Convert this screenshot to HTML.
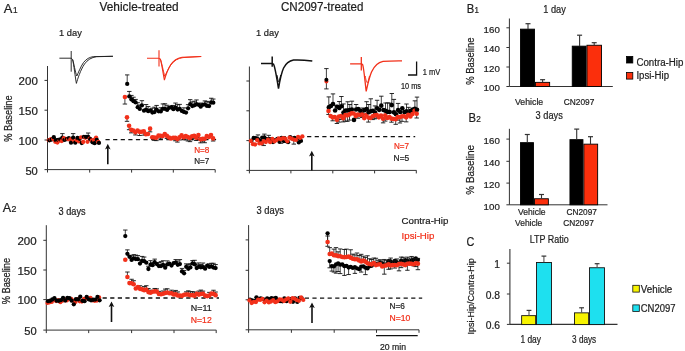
<!DOCTYPE html>
<html><head><meta charset="utf-8"><style>
html,body{margin:0;padding:0;background:#fff;width:685px;height:351px;overflow:hidden}
svg{display:block;filter:blur(0.5px)}
text{font-family:"Liberation Sans",sans-serif}
</style></head><body>
<svg xmlns="http://www.w3.org/2000/svg" width="685" height="351" viewBox="0 0 685 351">
<rect width="685" height="351" fill="#fff"/>
<line x1="47.5" y1="66" x2="47.5" y2="172.5" stroke="#333" stroke-width="1" />
<line x1="44.5" y1="80.4" x2="47.5" y2="80.4" stroke="#333" stroke-width="1" />
<line x1="44.5" y1="110.2" x2="47.5" y2="110.2" stroke="#333" stroke-width="1" />
<line x1="44.5" y1="140" x2="47.5" y2="140" stroke="#333" stroke-width="1" />
<line x1="44.5" y1="169.6" x2="47.5" y2="169.6" stroke="#333" stroke-width="1" />
<line x1="47.5" y1="169.6" x2="215.2" y2="169.6" stroke="#333" stroke-width="1" />
<line x1="89.7" y1="169.6" x2="89.7" y2="172.6" stroke="#333" stroke-width="1" />
<line x1="131.6" y1="169.6" x2="131.6" y2="172.6" stroke="#333" stroke-width="1" />
<line x1="173.3" y1="169.6" x2="173.3" y2="172.6" stroke="#333" stroke-width="1" />
<line x1="215.2" y1="169.6" x2="215.2" y2="172.6" stroke="#333" stroke-width="1" />
<line x1="105.5" y1="139.6" x2="217" y2="139.6" stroke="#111" stroke-width="1.4" stroke-dasharray="4.2 3.4"/>
<line x1="107.8" y1="146.8" x2="107.8" y2="164.2" stroke="#111" stroke-width="1.6" />
<path d="M107.8,143.8 L110.6,149.4 L107.8,148.1 L105,149.4 Z" stroke="none" stroke-width="0" fill="#111" />
<line x1="62.4" y1="137.61" x2="62.4" y2="133.61" stroke="#111" stroke-width="0.8" />
<line x1="60.2" y1="133.61" x2="64.6" y2="133.61" stroke="#111" stroke-width="0.9" />
<line x1="73.15" y1="137.61" x2="73.15" y2="133.61" stroke="#111" stroke-width="0.8" />
<line x1="70.95" y1="133.61" x2="75.35" y2="133.61" stroke="#111" stroke-width="0.9" />
<line x1="88.2" y1="137.02" x2="88.2" y2="133.02" stroke="#111" stroke-width="0.8" />
<line x1="86" y1="133.02" x2="90.4" y2="133.02" stroke="#111" stroke-width="0.9" />
<circle cx="48.8" cy="140.14" r="2.15" fill="#f2301a"/>
<circle cx="49.5" cy="140.31" r="2.15" fill="#000"/>
<circle cx="50.95" cy="139.13" r="2.15" fill="#f2301a"/>
<circle cx="51.65" cy="139.61" r="2.15" fill="#000"/>
<circle cx="53.1" cy="139.06" r="2.15" fill="#f2301a"/>
<circle cx="53.8" cy="137.22" r="2.15" fill="#000"/>
<circle cx="55.25" cy="141.85" r="2.15" fill="#f2301a"/>
<circle cx="55.95" cy="140.23" r="2.15" fill="#000"/>
<circle cx="57.4" cy="142.53" r="2.15" fill="#f2301a"/>
<circle cx="58.1" cy="139.95" r="2.15" fill="#000"/>
<circle cx="59.55" cy="140.55" r="2.15" fill="#f2301a"/>
<circle cx="60.25" cy="139.43" r="2.15" fill="#000"/>
<circle cx="61.7" cy="141.07" r="2.15" fill="#f2301a"/>
<circle cx="62.4" cy="137.61" r="2.15" fill="#000"/>
<circle cx="63.85" cy="138.16" r="2.15" fill="#f2301a"/>
<circle cx="64.55" cy="139.92" r="2.15" fill="#000"/>
<circle cx="66" cy="138.78" r="2.15" fill="#f2301a"/>
<circle cx="66.7" cy="139.15" r="2.15" fill="#000"/>
<circle cx="68.15" cy="139.24" r="2.15" fill="#f2301a"/>
<circle cx="68.85" cy="138.08" r="2.15" fill="#000"/>
<circle cx="70.3" cy="139.44" r="2.15" fill="#f2301a"/>
<circle cx="71" cy="142.66" r="2.15" fill="#000"/>
<circle cx="72.45" cy="138.86" r="2.15" fill="#f2301a"/>
<circle cx="73.15" cy="137.61" r="2.15" fill="#000"/>
<circle cx="74.6" cy="141.61" r="2.15" fill="#f2301a"/>
<circle cx="75.3" cy="142.69" r="2.15" fill="#000"/>
<circle cx="76.75" cy="140" r="2.15" fill="#f2301a"/>
<circle cx="77.45" cy="137.97" r="2.15" fill="#000"/>
<circle cx="78.9" cy="141.47" r="2.15" fill="#f2301a"/>
<circle cx="79.6" cy="138.73" r="2.15" fill="#000"/>
<circle cx="81.05" cy="137.45" r="2.15" fill="#f2301a"/>
<circle cx="81.75" cy="143.01" r="2.15" fill="#000"/>
<circle cx="83.2" cy="141.98" r="2.15" fill="#f2301a"/>
<circle cx="83.9" cy="136.84" r="2.15" fill="#000"/>
<circle cx="85.35" cy="137.87" r="2.15" fill="#f2301a"/>
<circle cx="86.05" cy="136.95" r="2.15" fill="#000"/>
<circle cx="87.5" cy="141.84" r="2.15" fill="#f2301a"/>
<circle cx="88.2" cy="137.02" r="2.15" fill="#000"/>
<circle cx="89.65" cy="138.53" r="2.15" fill="#f2301a"/>
<circle cx="90.35" cy="139.24" r="2.15" fill="#000"/>
<circle cx="91.8" cy="140.38" r="2.15" fill="#f2301a"/>
<circle cx="92.5" cy="142.25" r="2.15" fill="#000"/>
<circle cx="93.95" cy="140" r="2.15" fill="#f2301a"/>
<circle cx="94.65" cy="143.18" r="2.15" fill="#000"/>
<circle cx="96.1" cy="137.62" r="2.15" fill="#f2301a"/>
<circle cx="96.8" cy="139.81" r="2.15" fill="#000"/>
<circle cx="98.25" cy="142.02" r="2.15" fill="#f2301a"/>
<circle cx="98.95" cy="142.89" r="2.15" fill="#000"/>
<line x1="124.9" y1="97.04" x2="124.9" y2="104.04" stroke="#111" stroke-width="0.8" />
<line x1="122.7" y1="104.04" x2="127.1" y2="104.04" stroke="#111" stroke-width="0.9" />
<line x1="127" y1="117.33" x2="127" y2="121.33" stroke="#111" stroke-width="0.8" />
<line x1="124.8" y1="121.33" x2="129.2" y2="121.33" stroke="#111" stroke-width="0.9" />
<line x1="129.1" y1="125.68" x2="129.1" y2="129.68" stroke="#111" stroke-width="0.8" />
<line x1="126.9" y1="129.68" x2="131.3" y2="129.68" stroke="#111" stroke-width="0.9" />
<line x1="131.2" y1="129.86" x2="131.2" y2="132.86" stroke="#111" stroke-width="0.8" />
<line x1="129" y1="132.86" x2="133.4" y2="132.86" stroke="#111" stroke-width="0.9" />
<line x1="135.4" y1="132.24" x2="135.4" y2="134.96" stroke="#111" stroke-width="0.8" />
<line x1="133.2" y1="134.96" x2="137.6" y2="134.96" stroke="#111" stroke-width="0.9" />
<line x1="139.6" y1="131.83" x2="139.6" y2="135.52" stroke="#111" stroke-width="0.8" />
<line x1="137.4" y1="135.52" x2="141.8" y2="135.52" stroke="#111" stroke-width="0.9" />
<line x1="143.8" y1="131.33" x2="143.8" y2="135.17" stroke="#111" stroke-width="0.8" />
<line x1="141.6" y1="135.17" x2="146" y2="135.17" stroke="#111" stroke-width="0.9" />
<line x1="150.1" y1="128.66" x2="150.1" y2="131.85" stroke="#111" stroke-width="0.8" />
<line x1="147.9" y1="131.85" x2="152.3" y2="131.85" stroke="#111" stroke-width="0.9" />
<line x1="154.3" y1="137.49" x2="154.3" y2="140.32" stroke="#111" stroke-width="0.8" />
<line x1="152.1" y1="140.32" x2="156.5" y2="140.32" stroke="#111" stroke-width="0.9" />
<line x1="156.4" y1="137.75" x2="156.4" y2="140.64" stroke="#111" stroke-width="0.8" />
<line x1="154.2" y1="140.64" x2="158.6" y2="140.64" stroke="#111" stroke-width="0.9" />
<line x1="160.6" y1="135.71" x2="160.6" y2="138.85" stroke="#111" stroke-width="0.8" />
<line x1="158.4" y1="138.85" x2="162.8" y2="138.85" stroke="#111" stroke-width="0.9" />
<line x1="166.9" y1="135.91" x2="166.9" y2="138.47" stroke="#111" stroke-width="0.8" />
<line x1="164.7" y1="138.47" x2="169.1" y2="138.47" stroke="#111" stroke-width="0.9" />
<line x1="175.3" y1="137.9" x2="175.3" y2="140.75" stroke="#111" stroke-width="0.8" />
<line x1="173.1" y1="140.75" x2="177.5" y2="140.75" stroke="#111" stroke-width="0.9" />
<line x1="177.4" y1="139.12" x2="177.4" y2="142.08" stroke="#111" stroke-width="0.8" />
<line x1="175.2" y1="142.08" x2="179.6" y2="142.08" stroke="#111" stroke-width="0.9" />
<line x1="179.5" y1="137.38" x2="179.5" y2="139.98" stroke="#111" stroke-width="0.8" />
<line x1="177.3" y1="139.98" x2="181.7" y2="139.98" stroke="#111" stroke-width="0.9" />
<line x1="185.8" y1="136.07" x2="185.8" y2="139.84" stroke="#111" stroke-width="0.8" />
<line x1="183.6" y1="139.84" x2="188" y2="139.84" stroke="#111" stroke-width="0.9" />
<line x1="187.9" y1="137.09" x2="187.9" y2="140.97" stroke="#111" stroke-width="0.8" />
<line x1="185.7" y1="140.97" x2="190.1" y2="140.97" stroke="#111" stroke-width="0.9" />
<line x1="190" y1="137.95" x2="190" y2="141.65" stroke="#111" stroke-width="0.8" />
<line x1="187.8" y1="141.65" x2="192.2" y2="141.65" stroke="#111" stroke-width="0.9" />
<line x1="192.1" y1="136.31" x2="192.1" y2="139.73" stroke="#111" stroke-width="0.8" />
<line x1="189.9" y1="139.73" x2="194.3" y2="139.73" stroke="#111" stroke-width="0.9" />
<line x1="194.2" y1="135.84" x2="194.2" y2="138.37" stroke="#111" stroke-width="0.8" />
<line x1="192" y1="138.37" x2="196.4" y2="138.37" stroke="#111" stroke-width="0.9" />
<line x1="196.3" y1="137.65" x2="196.3" y2="140.5" stroke="#111" stroke-width="0.8" />
<line x1="194.1" y1="140.5" x2="198.5" y2="140.5" stroke="#111" stroke-width="0.9" />
<line x1="198.4" y1="134.93" x2="198.4" y2="137.98" stroke="#111" stroke-width="0.8" />
<line x1="196.2" y1="137.98" x2="200.6" y2="137.98" stroke="#111" stroke-width="0.9" />
<line x1="200.5" y1="139.34" x2="200.5" y2="142.83" stroke="#111" stroke-width="0.8" />
<line x1="198.3" y1="142.83" x2="202.7" y2="142.83" stroke="#111" stroke-width="0.9" />
<line x1="202.6" y1="138.9" x2="202.6" y2="141.88" stroke="#111" stroke-width="0.8" />
<line x1="200.4" y1="141.88" x2="204.8" y2="141.88" stroke="#111" stroke-width="0.9" />
<line x1="204.7" y1="138.79" x2="204.7" y2="142.72" stroke="#111" stroke-width="0.8" />
<line x1="202.5" y1="142.72" x2="206.9" y2="142.72" stroke="#111" stroke-width="0.9" />
<line x1="213.1" y1="138.38" x2="213.1" y2="141.03" stroke="#111" stroke-width="0.8" />
<line x1="210.9" y1="141.03" x2="215.3" y2="141.03" stroke="#111" stroke-width="0.9" />
<circle cx="124.9" cy="97.04" r="2.3" fill="#f2301a"/>
<circle cx="127" cy="117.33" r="2.3" fill="#f2301a"/>
<circle cx="129.1" cy="125.68" r="2.3" fill="#f2301a"/>
<circle cx="131.2" cy="129.86" r="2.3" fill="#f2301a"/>
<circle cx="133.3" cy="130.45" r="2.3" fill="#f2301a"/>
<circle cx="135.4" cy="132.24" r="2.3" fill="#f2301a"/>
<circle cx="137.5" cy="130.45" r="2.3" fill="#f2301a"/>
<circle cx="139.6" cy="131.83" r="2.3" fill="#f2301a"/>
<circle cx="141.7" cy="131.69" r="2.3" fill="#f2301a"/>
<circle cx="143.8" cy="131.33" r="2.3" fill="#f2301a"/>
<circle cx="145.9" cy="134.21" r="2.3" fill="#f2301a"/>
<circle cx="148" cy="134.02" r="2.3" fill="#f2301a"/>
<circle cx="150.1" cy="128.66" r="2.3" fill="#f2301a"/>
<circle cx="152.2" cy="137.28" r="2.3" fill="#f2301a"/>
<circle cx="154.3" cy="137.49" r="2.3" fill="#f2301a"/>
<circle cx="156.4" cy="137.75" r="2.3" fill="#f2301a"/>
<circle cx="158.5" cy="135.64" r="2.3" fill="#f2301a"/>
<circle cx="160.6" cy="135.71" r="2.3" fill="#f2301a"/>
<circle cx="162.7" cy="136.11" r="2.3" fill="#f2301a"/>
<circle cx="164.8" cy="134.03" r="2.3" fill="#f2301a"/>
<circle cx="166.9" cy="135.91" r="2.3" fill="#f2301a"/>
<circle cx="169" cy="137.51" r="2.3" fill="#f2301a"/>
<circle cx="171.1" cy="138.57" r="2.3" fill="#f2301a"/>
<circle cx="173.2" cy="137.77" r="2.3" fill="#f2301a"/>
<circle cx="175.3" cy="137.9" r="2.3" fill="#f2301a"/>
<circle cx="177.4" cy="139.12" r="2.3" fill="#f2301a"/>
<circle cx="179.5" cy="137.38" r="2.3" fill="#f2301a"/>
<circle cx="181.6" cy="135.23" r="2.3" fill="#f2301a"/>
<circle cx="183.7" cy="137.36" r="2.3" fill="#f2301a"/>
<circle cx="185.8" cy="136.07" r="2.3" fill="#f2301a"/>
<circle cx="187.9" cy="137.09" r="2.3" fill="#f2301a"/>
<circle cx="190" cy="137.95" r="2.3" fill="#f2301a"/>
<circle cx="192.1" cy="136.31" r="2.3" fill="#f2301a"/>
<circle cx="194.2" cy="135.84" r="2.3" fill="#f2301a"/>
<circle cx="196.3" cy="137.65" r="2.3" fill="#f2301a"/>
<circle cx="198.4" cy="134.93" r="2.3" fill="#f2301a"/>
<circle cx="200.5" cy="139.34" r="2.3" fill="#f2301a"/>
<circle cx="202.6" cy="138.9" r="2.3" fill="#f2301a"/>
<circle cx="204.7" cy="138.79" r="2.3" fill="#f2301a"/>
<circle cx="206.8" cy="136.04" r="2.3" fill="#f2301a"/>
<circle cx="208.9" cy="136.93" r="2.3" fill="#f2301a"/>
<circle cx="211" cy="134.93" r="2.3" fill="#f2301a"/>
<circle cx="213.1" cy="138.38" r="2.3" fill="#f2301a"/>
<line x1="127.2" y1="83.91" x2="127.2" y2="74.91" stroke="#111" stroke-width="0.8" />
<line x1="125" y1="74.91" x2="129.4" y2="74.91" stroke="#111" stroke-width="0.9" />
<line x1="129.3" y1="96.44" x2="129.3" y2="91.44" stroke="#111" stroke-width="0.8" />
<line x1="127.1" y1="91.44" x2="131.5" y2="91.44" stroke="#111" stroke-width="0.9" />
<line x1="131.4" y1="99.42" x2="131.4" y2="95.42" stroke="#111" stroke-width="0.8" />
<line x1="129.2" y1="95.42" x2="133.6" y2="95.42" stroke="#111" stroke-width="0.9" />
<line x1="133.5" y1="101.21" x2="133.5" y2="97.21" stroke="#111" stroke-width="0.8" />
<line x1="131.3" y1="97.21" x2="135.7" y2="97.21" stroke="#111" stroke-width="0.9" />
<line x1="135.6" y1="102.41" x2="135.6" y2="99.41" stroke="#111" stroke-width="0.8" />
<line x1="133.4" y1="99.41" x2="137.8" y2="99.41" stroke="#111" stroke-width="0.9" />
<line x1="137.7" y1="107.18" x2="137.7" y2="102.69" stroke="#111" stroke-width="0.8" />
<line x1="135.5" y1="102.69" x2="139.9" y2="102.69" stroke="#111" stroke-width="0.9" />
<line x1="139.8" y1="108.97" x2="139.8" y2="104.97" stroke="#111" stroke-width="0.8" />
<line x1="137.6" y1="104.97" x2="142" y2="104.97" stroke="#111" stroke-width="0.9" />
<line x1="141.9" y1="105.39" x2="141.9" y2="100.7" stroke="#111" stroke-width="0.8" />
<line x1="139.7" y1="100.7" x2="144.1" y2="100.7" stroke="#111" stroke-width="0.9" />
<line x1="146.1" y1="109.54" x2="146.1" y2="104.54" stroke="#111" stroke-width="0.8" />
<line x1="143.9" y1="104.54" x2="148.3" y2="104.54" stroke="#111" stroke-width="0.9" />
<line x1="148.2" y1="111.19" x2="148.2" y2="106.57" stroke="#111" stroke-width="0.8" />
<line x1="146" y1="106.57" x2="150.4" y2="106.57" stroke="#111" stroke-width="0.9" />
<line x1="152.4" y1="112.58" x2="152.4" y2="108.17" stroke="#111" stroke-width="0.8" />
<line x1="150.2" y1="108.17" x2="154.6" y2="108.17" stroke="#111" stroke-width="0.9" />
<line x1="154.5" y1="112.08" x2="154.5" y2="107.17" stroke="#111" stroke-width="0.8" />
<line x1="152.3" y1="107.17" x2="156.7" y2="107.17" stroke="#111" stroke-width="0.9" />
<line x1="156.6" y1="109.53" x2="156.6" y2="105.45" stroke="#111" stroke-width="0.8" />
<line x1="154.4" y1="105.45" x2="158.8" y2="105.45" stroke="#111" stroke-width="0.9" />
<line x1="160.8" y1="111.38" x2="160.8" y2="107.76" stroke="#111" stroke-width="0.8" />
<line x1="158.6" y1="107.76" x2="163" y2="107.76" stroke="#111" stroke-width="0.9" />
<line x1="162.9" y1="108.81" x2="162.9" y2="103.93" stroke="#111" stroke-width="0.8" />
<line x1="160.7" y1="103.93" x2="165.1" y2="103.93" stroke="#111" stroke-width="0.9" />
<line x1="165" y1="108.8" x2="165" y2="103.81" stroke="#111" stroke-width="0.8" />
<line x1="162.8" y1="103.81" x2="167.2" y2="103.81" stroke="#111" stroke-width="0.9" />
<line x1="167.1" y1="109.9" x2="167.1" y2="105.27" stroke="#111" stroke-width="0.8" />
<line x1="164.9" y1="105.27" x2="169.3" y2="105.27" stroke="#111" stroke-width="0.9" />
<line x1="173.4" y1="109.18" x2="173.4" y2="105.44" stroke="#111" stroke-width="0.8" />
<line x1="171.2" y1="105.44" x2="175.6" y2="105.44" stroke="#111" stroke-width="0.9" />
<line x1="175.5" y1="107.56" x2="175.5" y2="103.06" stroke="#111" stroke-width="0.8" />
<line x1="173.3" y1="103.06" x2="177.7" y2="103.06" stroke="#111" stroke-width="0.9" />
<line x1="177.6" y1="109.58" x2="177.6" y2="104.66" stroke="#111" stroke-width="0.8" />
<line x1="175.4" y1="104.66" x2="179.8" y2="104.66" stroke="#111" stroke-width="0.9" />
<line x1="179.7" y1="108.94" x2="179.7" y2="104.39" stroke="#111" stroke-width="0.8" />
<line x1="177.5" y1="104.39" x2="181.9" y2="104.39" stroke="#111" stroke-width="0.9" />
<line x1="183.9" y1="111.96" x2="183.9" y2="107.84" stroke="#111" stroke-width="0.8" />
<line x1="181.7" y1="107.84" x2="186.1" y2="107.84" stroke="#111" stroke-width="0.9" />
<line x1="188.1" y1="108.37" x2="188.1" y2="104.65" stroke="#111" stroke-width="0.8" />
<line x1="185.9" y1="104.65" x2="190.3" y2="104.65" stroke="#111" stroke-width="0.9" />
<line x1="190.2" y1="104.22" x2="190.2" y2="99.65" stroke="#111" stroke-width="0.8" />
<line x1="188" y1="99.65" x2="192.4" y2="99.65" stroke="#111" stroke-width="0.9" />
<line x1="192.3" y1="106.07" x2="192.3" y2="101.86" stroke="#111" stroke-width="0.8" />
<line x1="190.1" y1="101.86" x2="194.5" y2="101.86" stroke="#111" stroke-width="0.9" />
<line x1="194.4" y1="105.34" x2="194.4" y2="101.23" stroke="#111" stroke-width="0.8" />
<line x1="192.2" y1="101.23" x2="196.6" y2="101.23" stroke="#111" stroke-width="0.9" />
<line x1="196.5" y1="104.27" x2="196.5" y2="99.95" stroke="#111" stroke-width="0.8" />
<line x1="194.3" y1="99.95" x2="198.7" y2="99.95" stroke="#111" stroke-width="0.9" />
<line x1="200.7" y1="106.72" x2="200.7" y2="103.06" stroke="#111" stroke-width="0.8" />
<line x1="198.5" y1="103.06" x2="202.9" y2="103.06" stroke="#111" stroke-width="0.9" />
<line x1="204.9" y1="104.47" x2="204.9" y2="100.93" stroke="#111" stroke-width="0.8" />
<line x1="202.7" y1="100.93" x2="207.1" y2="100.93" stroke="#111" stroke-width="0.9" />
<line x1="207" y1="105.91" x2="207" y2="101.4" stroke="#111" stroke-width="0.8" />
<line x1="204.8" y1="101.4" x2="209.2" y2="101.4" stroke="#111" stroke-width="0.9" />
<line x1="209.1" y1="106.03" x2="209.1" y2="102.09" stroke="#111" stroke-width="0.8" />
<line x1="206.9" y1="102.09" x2="211.3" y2="102.09" stroke="#111" stroke-width="0.9" />
<line x1="211.2" y1="102.51" x2="211.2" y2="98.24" stroke="#111" stroke-width="0.8" />
<line x1="209" y1="98.24" x2="213.4" y2="98.24" stroke="#111" stroke-width="0.9" />
<line x1="213.3" y1="102.67" x2="213.3" y2="99.06" stroke="#111" stroke-width="0.8" />
<line x1="211.1" y1="99.06" x2="215.5" y2="99.06" stroke="#111" stroke-width="0.9" />
<circle cx="127.2" cy="83.91" r="2.15" fill="#000"/>
<circle cx="129.3" cy="96.44" r="2.15" fill="#000"/>
<circle cx="131.4" cy="99.42" r="2.15" fill="#000"/>
<circle cx="133.5" cy="101.21" r="2.15" fill="#000"/>
<circle cx="135.6" cy="102.41" r="2.15" fill="#000"/>
<circle cx="137.7" cy="107.18" r="2.15" fill="#000"/>
<circle cx="139.8" cy="108.97" r="2.15" fill="#000"/>
<circle cx="141.9" cy="105.39" r="2.15" fill="#000"/>
<circle cx="144" cy="110.67" r="2.15" fill="#000"/>
<circle cx="146.1" cy="109.54" r="2.15" fill="#000"/>
<circle cx="148.2" cy="111.19" r="2.15" fill="#000"/>
<circle cx="150.3" cy="110.35" r="2.15" fill="#000"/>
<circle cx="152.4" cy="112.58" r="2.15" fill="#000"/>
<circle cx="154.5" cy="112.08" r="2.15" fill="#000"/>
<circle cx="156.6" cy="109.53" r="2.15" fill="#000"/>
<circle cx="158.7" cy="111.35" r="2.15" fill="#000"/>
<circle cx="160.8" cy="111.38" r="2.15" fill="#000"/>
<circle cx="162.9" cy="108.81" r="2.15" fill="#000"/>
<circle cx="165" cy="108.8" r="2.15" fill="#000"/>
<circle cx="167.1" cy="109.9" r="2.15" fill="#000"/>
<circle cx="169.2" cy="107.83" r="2.15" fill="#000"/>
<circle cx="171.3" cy="107.27" r="2.15" fill="#000"/>
<circle cx="173.4" cy="109.18" r="2.15" fill="#000"/>
<circle cx="175.5" cy="107.56" r="2.15" fill="#000"/>
<circle cx="177.6" cy="109.58" r="2.15" fill="#000"/>
<circle cx="179.7" cy="108.94" r="2.15" fill="#000"/>
<circle cx="181.8" cy="110.94" r="2.15" fill="#000"/>
<circle cx="183.9" cy="111.96" r="2.15" fill="#000"/>
<circle cx="186" cy="112.55" r="2.15" fill="#000"/>
<circle cx="188.1" cy="108.37" r="2.15" fill="#000"/>
<circle cx="190.2" cy="104.22" r="2.15" fill="#000"/>
<circle cx="192.3" cy="106.07" r="2.15" fill="#000"/>
<circle cx="194.4" cy="105.34" r="2.15" fill="#000"/>
<circle cx="196.5" cy="104.27" r="2.15" fill="#000"/>
<circle cx="198.6" cy="104.81" r="2.15" fill="#000"/>
<circle cx="200.7" cy="106.72" r="2.15" fill="#000"/>
<circle cx="202.8" cy="104.82" r="2.15" fill="#000"/>
<circle cx="204.9" cy="104.47" r="2.15" fill="#000"/>
<circle cx="207" cy="105.91" r="2.15" fill="#000"/>
<circle cx="209.1" cy="106.03" r="2.15" fill="#000"/>
<circle cx="211.2" cy="102.51" r="2.15" fill="#000"/>
<circle cx="213.3" cy="102.67" r="2.15" fill="#000"/>
<path d="M59.4,58.2 L71.2,58.2 M71.2,51 L71.2,71.7 M71.2,58.2 L72.6,59.5 C73.8,63 75.2,72 76.8,76 C78.2,73 80.5,67 83.5,62.5 C86.5,58.8 89.5,57.2 93.5,56.6 L112.9,56.3" stroke="#222" stroke-width="0.95" fill="none" />
<path d="M72.6,59.5 C73.8,64 75.3,78 76.4,83.4 C77.6,79 80.5,70 84.5,64 C87.5,59.8 91.5,57.4 96.5,56.7 L112.9,56.3" stroke="#222" stroke-width="0.95" fill="none" />
<path d="M147,58.2 L159,58.2 M159,50.2 L159,66.4 M159,58.2 L160.3,59 C161.5,62 163,73 164.4,80.1 C165.6,76 167.5,70 170.5,65 C173.5,60.5 177,58 182,57.2 L201.2,56.5" stroke="#f2301a" stroke-width="1.1" fill="none" />
<path d="M160.3,59 C161.5,62 163.3,71 164.8,76.5 C166,73.5 168.5,68 171.5,64 C174.5,60.3 178,58.3 183,57.6 L201.2,56.5" stroke="#f2301a" stroke-width="1.0" fill="none" />
<text x="194.2" y="152.8" font-size="8.3" fill="#f2301a" stroke="#f2301a" stroke-width="0.22" text-anchor="start" textLength="15.2" lengthAdjust="spacingAndGlyphs" >N=8</text>
<text x="194.2" y="163.9" font-size="8.3" fill="#1e1e1e" stroke="#1e1e1e" stroke-width="0.22" text-anchor="start" textLength="15" lengthAdjust="spacingAndGlyphs" >N=7</text>
<line x1="249.4" y1="66.5" x2="249.4" y2="173.4" stroke="#333" stroke-width="1" />
<line x1="246.4" y1="81" x2="249.4" y2="81" stroke="#333" stroke-width="1" />
<line x1="246.4" y1="110.8" x2="249.4" y2="110.8" stroke="#333" stroke-width="1" />
<line x1="246.4" y1="140.6" x2="249.4" y2="140.6" stroke="#333" stroke-width="1" />
<line x1="246.4" y1="170.4" x2="249.4" y2="170.4" stroke="#333" stroke-width="1" />
<line x1="249.4" y1="170.4" x2="416.5" y2="170.4" stroke="#333" stroke-width="1" />
<line x1="290.9" y1="170.4" x2="290.9" y2="173.4" stroke="#333" stroke-width="1" />
<line x1="332.8" y1="170.4" x2="332.8" y2="173.4" stroke="#333" stroke-width="1" />
<line x1="374.6" y1="170.4" x2="374.6" y2="173.4" stroke="#333" stroke-width="1" />
<line x1="416.3" y1="170.4" x2="416.3" y2="173.4" stroke="#333" stroke-width="1" />
<line x1="307.1" y1="136.6" x2="415.2" y2="136.6" stroke="#111" stroke-width="1.4" stroke-dasharray="4.2 3.4"/>
<line x1="311.8" y1="153.8" x2="311.8" y2="170.4" stroke="#111" stroke-width="1.6" />
<path d="M311.8,150.8 L314.6,156.4 L311.8,155.1 L309,156.4 Z" stroke="none" stroke-width="0" fill="#111" />
<line x1="257.95" y1="139.11" x2="257.95" y2="134.93" stroke="#111" stroke-width="0.8" />
<line x1="255.75" y1="134.93" x2="260.15" y2="134.93" stroke="#111" stroke-width="0.9" />
<line x1="264.4" y1="137.5" x2="264.4" y2="134.12" stroke="#111" stroke-width="0.8" />
<line x1="262.2" y1="134.12" x2="266.6" y2="134.12" stroke="#111" stroke-width="0.9" />
<line x1="268.7" y1="139.23" x2="268.7" y2="135.32" stroke="#111" stroke-width="0.8" />
<line x1="266.5" y1="135.32" x2="270.9" y2="135.32" stroke="#111" stroke-width="0.9" />
<line x1="270.85" y1="140.72" x2="270.85" y2="137.55" stroke="#111" stroke-width="0.8" />
<line x1="268.65" y1="137.55" x2="273.05" y2="137.55" stroke="#111" stroke-width="0.9" />
<line x1="283.75" y1="141.05" x2="283.75" y2="136.49" stroke="#111" stroke-width="0.8" />
<line x1="281.55" y1="136.49" x2="285.95" y2="136.49" stroke="#111" stroke-width="0.9" />
<circle cx="251.5" cy="140.64" r="2.15" fill="#000"/>
<circle cx="253.65" cy="137.88" r="2.15" fill="#000"/>
<circle cx="255.8" cy="138.23" r="2.15" fill="#000"/>
<circle cx="257.95" cy="139.11" r="2.15" fill="#000"/>
<circle cx="260.1" cy="140.58" r="2.15" fill="#000"/>
<circle cx="262.25" cy="137.53" r="2.15" fill="#000"/>
<circle cx="264.4" cy="137.5" r="2.15" fill="#000"/>
<circle cx="266.55" cy="139.14" r="2.15" fill="#000"/>
<circle cx="268.7" cy="139.23" r="2.15" fill="#000"/>
<circle cx="270.85" cy="140.72" r="2.15" fill="#000"/>
<circle cx="273" cy="142.03" r="2.15" fill="#000"/>
<circle cx="275.15" cy="140.1" r="2.15" fill="#000"/>
<circle cx="277.3" cy="139" r="2.15" fill="#000"/>
<circle cx="279.45" cy="141.82" r="2.15" fill="#000"/>
<circle cx="281.6" cy="137.99" r="2.15" fill="#000"/>
<circle cx="283.75" cy="141.05" r="2.15" fill="#000"/>
<circle cx="285.9" cy="141.1" r="2.15" fill="#000"/>
<circle cx="288.05" cy="142.17" r="2.15" fill="#000"/>
<circle cx="290.2" cy="137.1" r="2.15" fill="#000"/>
<circle cx="292.35" cy="138.54" r="2.15" fill="#000"/>
<circle cx="294.5" cy="137.86" r="2.15" fill="#000"/>
<circle cx="296.65" cy="139.3" r="2.15" fill="#000"/>
<circle cx="298.8" cy="142.47" r="2.15" fill="#000"/>
<circle cx="300.95" cy="140.92" r="2.15" fill="#000"/>
<line x1="263.7" y1="141.05" x2="263.7" y2="145.56" stroke="#111" stroke-width="0.8" />
<line x1="261.5" y1="145.56" x2="265.9" y2="145.56" stroke="#111" stroke-width="0.9" />
<line x1="280.9" y1="139.26" x2="280.9" y2="143.3" stroke="#111" stroke-width="0.8" />
<line x1="278.7" y1="143.3" x2="283.1" y2="143.3" stroke="#111" stroke-width="0.9" />
<line x1="293.8" y1="139.6" x2="293.8" y2="144.12" stroke="#111" stroke-width="0.8" />
<line x1="291.6" y1="144.12" x2="296" y2="144.12" stroke="#111" stroke-width="0.9" />
<circle cx="250.8" cy="141" r="2.15" fill="#f2301a"/>
<circle cx="252.95" cy="144.2" r="2.15" fill="#f2301a"/>
<circle cx="255.1" cy="144.49" r="2.15" fill="#f2301a"/>
<circle cx="257.25" cy="140.21" r="2.15" fill="#f2301a"/>
<circle cx="259.4" cy="143.4" r="2.15" fill="#f2301a"/>
<circle cx="261.55" cy="143.47" r="2.15" fill="#f2301a"/>
<circle cx="263.7" cy="141.05" r="2.15" fill="#f2301a"/>
<circle cx="265.85" cy="142.12" r="2.15" fill="#f2301a"/>
<circle cx="268" cy="139.64" r="2.15" fill="#f2301a"/>
<circle cx="270.15" cy="142.18" r="2.15" fill="#f2301a"/>
<circle cx="272.3" cy="138.94" r="2.15" fill="#f2301a"/>
<circle cx="274.45" cy="141.41" r="2.15" fill="#f2301a"/>
<circle cx="276.6" cy="140.03" r="2.15" fill="#f2301a"/>
<circle cx="278.75" cy="138.44" r="2.15" fill="#f2301a"/>
<circle cx="280.9" cy="139.26" r="2.15" fill="#f2301a"/>
<circle cx="283.05" cy="138.06" r="2.15" fill="#f2301a"/>
<circle cx="285.2" cy="138.76" r="2.15" fill="#f2301a"/>
<circle cx="287.35" cy="141.31" r="2.15" fill="#f2301a"/>
<circle cx="289.5" cy="137.63" r="2.15" fill="#f2301a"/>
<circle cx="291.65" cy="138.64" r="2.15" fill="#f2301a"/>
<circle cx="293.8" cy="139.6" r="2.15" fill="#f2301a"/>
<circle cx="295.95" cy="139.89" r="2.15" fill="#f2301a"/>
<circle cx="298.1" cy="136.94" r="2.15" fill="#f2301a"/>
<circle cx="300.25" cy="137.87" r="2.15" fill="#f2301a"/>
<circle cx="302.4" cy="136.39" r="2.15" fill="#f2301a"/>
<line x1="326.4" y1="68.6" x2="326.4" y2="88.9" stroke="#111" stroke-width="0.8" />
<line x1="324.2" y1="68.6" x2="328.6" y2="68.6" stroke="#111" stroke-width="0.9" />
<line x1="324.2" y1="88.9" x2="328.6" y2="88.9" stroke="#111" stroke-width="0.9" />
<circle cx="326.4" cy="81.4" r="2.0" fill="#f2301a"/>
<circle cx="326.4" cy="79.7" r="2.0" fill="#000"/>
<line x1="328.8" y1="107.4" x2="328.8" y2="96.9" stroke="#111" stroke-width="0.8" />
<line x1="326.6" y1="96.9" x2="331" y2="96.9" stroke="#111" stroke-width="0.9" />
<line x1="333" y1="104.01" x2="333" y2="93.9" stroke="#111" stroke-width="0.8" />
<line x1="330.8" y1="93.9" x2="335.2" y2="93.9" stroke="#111" stroke-width="0.9" />
<line x1="335.1" y1="110.5" x2="335.1" y2="105.24" stroke="#111" stroke-width="0.8" />
<line x1="332.9" y1="105.24" x2="337.3" y2="105.24" stroke="#111" stroke-width="0.9" />
<line x1="339.3" y1="108.01" x2="339.3" y2="101.52" stroke="#111" stroke-width="0.8" />
<line x1="337.1" y1="101.52" x2="341.5" y2="101.52" stroke="#111" stroke-width="0.9" />
<line x1="341.4" y1="106.21" x2="341.4" y2="96.5" stroke="#111" stroke-width="0.8" />
<line x1="339.2" y1="96.5" x2="343.6" y2="96.5" stroke="#111" stroke-width="0.9" />
<line x1="343.5" y1="112.59" x2="343.5" y2="103.95" stroke="#111" stroke-width="0.8" />
<line x1="341.3" y1="103.95" x2="345.7" y2="103.95" stroke="#111" stroke-width="0.9" />
<line x1="347.7" y1="110.44" x2="347.7" y2="101.77" stroke="#111" stroke-width="0.8" />
<line x1="345.5" y1="101.77" x2="349.9" y2="101.77" stroke="#111" stroke-width="0.9" />
<line x1="349.8" y1="110.1" x2="349.8" y2="104.5" stroke="#111" stroke-width="0.8" />
<line x1="347.6" y1="104.5" x2="352" y2="104.5" stroke="#111" stroke-width="0.9" />
<line x1="351.9" y1="109.53" x2="351.9" y2="101.18" stroke="#111" stroke-width="0.8" />
<line x1="349.7" y1="101.18" x2="354.1" y2="101.18" stroke="#111" stroke-width="0.9" />
<line x1="356.1" y1="109.5" x2="356.1" y2="104.5" stroke="#111" stroke-width="0.8" />
<line x1="353.9" y1="104.5" x2="358.3" y2="104.5" stroke="#111" stroke-width="0.9" />
<line x1="362.4" y1="114.2" x2="362.4" y2="108" stroke="#111" stroke-width="0.8" />
<line x1="360.2" y1="108" x2="364.6" y2="108" stroke="#111" stroke-width="0.9" />
<line x1="366.6" y1="109.15" x2="366.6" y2="101.7" stroke="#111" stroke-width="0.8" />
<line x1="364.4" y1="101.7" x2="368.8" y2="101.7" stroke="#111" stroke-width="0.9" />
<line x1="368.7" y1="112.19" x2="368.7" y2="104.5" stroke="#111" stroke-width="0.8" />
<line x1="366.5" y1="104.5" x2="370.9" y2="104.5" stroke="#111" stroke-width="0.9" />
<line x1="370.8" y1="111.31" x2="370.8" y2="98.8" stroke="#111" stroke-width="0.8" />
<line x1="368.6" y1="98.8" x2="373" y2="98.8" stroke="#111" stroke-width="0.9" />
<line x1="375" y1="112.46" x2="375" y2="105.9" stroke="#111" stroke-width="0.8" />
<line x1="372.8" y1="105.9" x2="377.2" y2="105.9" stroke="#111" stroke-width="0.9" />
<line x1="377.1" y1="108.29" x2="377.1" y2="100.29" stroke="#111" stroke-width="0.8" />
<line x1="374.9" y1="100.29" x2="379.3" y2="100.29" stroke="#111" stroke-width="0.9" />
<line x1="381.3" y1="105.67" x2="381.3" y2="96.2" stroke="#111" stroke-width="0.8" />
<line x1="379.1" y1="96.2" x2="383.5" y2="96.2" stroke="#111" stroke-width="0.9" />
<line x1="385.5" y1="110.83" x2="385.5" y2="103" stroke="#111" stroke-width="0.8" />
<line x1="383.3" y1="103" x2="387.7" y2="103" stroke="#111" stroke-width="0.9" />
<line x1="387.6" y1="111.87" x2="387.6" y2="102.88" stroke="#111" stroke-width="0.8" />
<line x1="385.4" y1="102.88" x2="389.8" y2="102.88" stroke="#111" stroke-width="0.9" />
<line x1="389.7" y1="111.97" x2="389.7" y2="103.1" stroke="#111" stroke-width="0.8" />
<line x1="387.5" y1="103.1" x2="391.9" y2="103.1" stroke="#111" stroke-width="0.9" />
<line x1="391.8" y1="105.08" x2="391.8" y2="93.5" stroke="#111" stroke-width="0.8" />
<line x1="389.6" y1="93.5" x2="394" y2="93.5" stroke="#111" stroke-width="0.9" />
<line x1="393.9" y1="112.34" x2="393.9" y2="99.4" stroke="#111" stroke-width="0.8" />
<line x1="391.7" y1="99.4" x2="396.1" y2="99.4" stroke="#111" stroke-width="0.9" />
<line x1="398.1" y1="110.16" x2="398.1" y2="103.41" stroke="#111" stroke-width="0.8" />
<line x1="395.9" y1="103.41" x2="400.3" y2="103.41" stroke="#111" stroke-width="0.9" />
<line x1="406.5" y1="111.31" x2="406.5" y2="104" stroke="#111" stroke-width="0.8" />
<line x1="404.3" y1="104" x2="408.7" y2="104" stroke="#111" stroke-width="0.9" />
<line x1="408.6" y1="113.78" x2="408.6" y2="107.35" stroke="#111" stroke-width="0.8" />
<line x1="406.4" y1="107.35" x2="410.8" y2="107.35" stroke="#111" stroke-width="0.9" />
<line x1="414.9" y1="108.88" x2="414.9" y2="100.82" stroke="#111" stroke-width="0.8" />
<line x1="412.7" y1="100.82" x2="417.1" y2="100.82" stroke="#111" stroke-width="0.9" />
<line x1="417" y1="109.73" x2="417" y2="97.1" stroke="#111" stroke-width="0.8" />
<line x1="414.8" y1="97.1" x2="419.2" y2="97.1" stroke="#111" stroke-width="0.9" />
<line x1="328.5" y1="111.05" x2="328.5" y2="114.44" stroke="#111" stroke-width="0.8" />
<line x1="326.3" y1="114.44" x2="330.7" y2="114.44" stroke="#111" stroke-width="0.9" />
<line x1="332.7" y1="117.4" x2="332.7" y2="120.8" stroke="#111" stroke-width="0.8" />
<line x1="330.5" y1="120.8" x2="334.9" y2="120.8" stroke="#111" stroke-width="0.9" />
<line x1="336.9" y1="119.84" x2="336.9" y2="123.48" stroke="#111" stroke-width="0.8" />
<line x1="334.7" y1="123.48" x2="339.1" y2="123.48" stroke="#111" stroke-width="0.9" />
<line x1="339" y1="116.57" x2="339" y2="122.1" stroke="#111" stroke-width="0.8" />
<line x1="336.8" y1="122.1" x2="341.2" y2="122.1" stroke="#111" stroke-width="0.9" />
<line x1="341.1" y1="116.02" x2="341.1" y2="119.58" stroke="#111" stroke-width="0.8" />
<line x1="338.9" y1="119.58" x2="343.3" y2="119.58" stroke="#111" stroke-width="0.9" />
<line x1="343.2" y1="118.18" x2="343.2" y2="121.9" stroke="#111" stroke-width="0.8" />
<line x1="341" y1="121.9" x2="345.4" y2="121.9" stroke="#111" stroke-width="0.9" />
<line x1="345.3" y1="115.16" x2="345.3" y2="121.11" stroke="#111" stroke-width="0.8" />
<line x1="343.1" y1="121.11" x2="347.5" y2="121.11" stroke="#111" stroke-width="0.9" />
<line x1="347.4" y1="115.37" x2="347.4" y2="121.34" stroke="#111" stroke-width="0.8" />
<line x1="345.2" y1="121.34" x2="349.6" y2="121.34" stroke="#111" stroke-width="0.9" />
<line x1="349.5" y1="114.39" x2="349.5" y2="120.1" stroke="#111" stroke-width="0.8" />
<line x1="347.3" y1="120.1" x2="351.7" y2="120.1" stroke="#111" stroke-width="0.9" />
<line x1="357.9" y1="114.56" x2="357.9" y2="118.26" stroke="#111" stroke-width="0.8" />
<line x1="355.7" y1="118.26" x2="360.1" y2="118.26" stroke="#111" stroke-width="0.9" />
<line x1="362.1" y1="114.44" x2="362.1" y2="117.48" stroke="#111" stroke-width="0.8" />
<line x1="359.9" y1="117.48" x2="364.3" y2="117.48" stroke="#111" stroke-width="0.9" />
<line x1="368.4" y1="117.51" x2="368.4" y2="122.07" stroke="#111" stroke-width="0.8" />
<line x1="366.2" y1="122.07" x2="370.6" y2="122.07" stroke="#111" stroke-width="0.9" />
<line x1="372.6" y1="116.22" x2="372.6" y2="119.59" stroke="#111" stroke-width="0.8" />
<line x1="370.4" y1="119.59" x2="374.8" y2="119.59" stroke="#111" stroke-width="0.9" />
<line x1="374.7" y1="115.37" x2="374.7" y2="118.87" stroke="#111" stroke-width="0.8" />
<line x1="372.5" y1="118.87" x2="376.9" y2="118.87" stroke="#111" stroke-width="0.9" />
<line x1="376.8" y1="114.99" x2="376.8" y2="118.09" stroke="#111" stroke-width="0.8" />
<line x1="374.6" y1="118.09" x2="379" y2="118.09" stroke="#111" stroke-width="0.9" />
<line x1="383.1" y1="118.74" x2="383.1" y2="122.87" stroke="#111" stroke-width="0.8" />
<line x1="380.9" y1="122.87" x2="385.3" y2="122.87" stroke="#111" stroke-width="0.9" />
<line x1="385.2" y1="115.24" x2="385.2" y2="121.1" stroke="#111" stroke-width="0.8" />
<line x1="383" y1="121.1" x2="387.4" y2="121.1" stroke="#111" stroke-width="0.9" />
<line x1="391.5" y1="118.67" x2="391.5" y2="122.19" stroke="#111" stroke-width="0.8" />
<line x1="389.3" y1="122.19" x2="393.7" y2="122.19" stroke="#111" stroke-width="0.9" />
<line x1="395.7" y1="119.25" x2="395.7" y2="124.32" stroke="#111" stroke-width="0.8" />
<line x1="393.5" y1="124.32" x2="397.9" y2="124.32" stroke="#111" stroke-width="0.9" />
<line x1="397.8" y1="117.04" x2="397.8" y2="120.13" stroke="#111" stroke-width="0.8" />
<line x1="395.6" y1="120.13" x2="400" y2="120.13" stroke="#111" stroke-width="0.9" />
<line x1="399.9" y1="117.24" x2="399.9" y2="122.98" stroke="#111" stroke-width="0.8" />
<line x1="397.7" y1="122.98" x2="402.1" y2="122.98" stroke="#111" stroke-width="0.9" />
<line x1="402" y1="116.32" x2="402" y2="121.34" stroke="#111" stroke-width="0.8" />
<line x1="399.8" y1="121.34" x2="404.2" y2="121.34" stroke="#111" stroke-width="0.9" />
<line x1="406.2" y1="117.36" x2="406.2" y2="121.85" stroke="#111" stroke-width="0.8" />
<line x1="404" y1="121.85" x2="408.4" y2="121.85" stroke="#111" stroke-width="0.9" />
<line x1="416.7" y1="113.71" x2="416.7" y2="117.99" stroke="#111" stroke-width="0.8" />
<line x1="414.5" y1="117.99" x2="418.9" y2="117.99" stroke="#111" stroke-width="0.9" />
<circle cx="328.8" cy="107.4" r="2.3" fill="#000"/>
<circle cx="328.5" cy="111.05" r="2.3" fill="#f2301a"/>
<circle cx="330.9" cy="106" r="2.3" fill="#000"/>
<circle cx="330.6" cy="115.93" r="2.3" fill="#f2301a"/>
<circle cx="333" cy="104.01" r="2.3" fill="#000"/>
<circle cx="332.7" cy="117.4" r="2.3" fill="#f2301a"/>
<circle cx="335.1" cy="110.5" r="2.3" fill="#000"/>
<circle cx="334.8" cy="116.93" r="2.3" fill="#f2301a"/>
<circle cx="337.2" cy="106.73" r="2.3" fill="#000"/>
<circle cx="336.9" cy="119.84" r="2.3" fill="#f2301a"/>
<circle cx="339.3" cy="108.01" r="2.3" fill="#000"/>
<circle cx="339" cy="116.57" r="2.3" fill="#f2301a"/>
<circle cx="341.4" cy="106.21" r="2.3" fill="#000"/>
<circle cx="341.1" cy="116.02" r="2.3" fill="#f2301a"/>
<circle cx="343.5" cy="112.59" r="2.3" fill="#000"/>
<circle cx="343.2" cy="118.18" r="2.3" fill="#f2301a"/>
<circle cx="345.6" cy="110.46" r="2.3" fill="#000"/>
<circle cx="345.3" cy="115.16" r="2.3" fill="#f2301a"/>
<circle cx="347.7" cy="110.44" r="2.3" fill="#000"/>
<circle cx="347.4" cy="115.37" r="2.3" fill="#f2301a"/>
<circle cx="349.8" cy="110.1" r="2.3" fill="#000"/>
<circle cx="349.5" cy="114.39" r="2.3" fill="#f2301a"/>
<circle cx="351.9" cy="109.53" r="2.3" fill="#000"/>
<circle cx="351.6" cy="113.28" r="2.3" fill="#f2301a"/>
<circle cx="354" cy="119.92" r="2.3" fill="#000"/>
<circle cx="353.7" cy="113.44" r="2.3" fill="#f2301a"/>
<circle cx="356.1" cy="109.5" r="2.3" fill="#000"/>
<circle cx="355.8" cy="115.93" r="2.3" fill="#f2301a"/>
<circle cx="358.2" cy="109.03" r="2.3" fill="#000"/>
<circle cx="357.9" cy="114.56" r="2.3" fill="#f2301a"/>
<circle cx="360.3" cy="110.74" r="2.3" fill="#000"/>
<circle cx="360" cy="115.07" r="2.3" fill="#f2301a"/>
<circle cx="362.4" cy="114.2" r="2.3" fill="#000"/>
<circle cx="362.1" cy="114.44" r="2.3" fill="#f2301a"/>
<circle cx="364.5" cy="110.14" r="2.3" fill="#000"/>
<circle cx="364.2" cy="118.1" r="2.3" fill="#f2301a"/>
<circle cx="366.6" cy="109.15" r="2.3" fill="#000"/>
<circle cx="366.3" cy="114.71" r="2.3" fill="#f2301a"/>
<circle cx="368.7" cy="112.19" r="2.3" fill="#000"/>
<circle cx="368.4" cy="117.51" r="2.3" fill="#f2301a"/>
<circle cx="370.8" cy="111.31" r="2.3" fill="#000"/>
<circle cx="370.5" cy="117.94" r="2.3" fill="#f2301a"/>
<circle cx="372.9" cy="110.75" r="2.3" fill="#000"/>
<circle cx="372.6" cy="116.22" r="2.3" fill="#f2301a"/>
<circle cx="375" cy="112.46" r="2.3" fill="#000"/>
<circle cx="374.7" cy="115.37" r="2.3" fill="#f2301a"/>
<circle cx="377.1" cy="108.29" r="2.3" fill="#000"/>
<circle cx="376.8" cy="114.99" r="2.3" fill="#f2301a"/>
<circle cx="379.2" cy="109.87" r="2.3" fill="#000"/>
<circle cx="378.9" cy="117.33" r="2.3" fill="#f2301a"/>
<circle cx="381.3" cy="105.67" r="2.3" fill="#000"/>
<circle cx="381" cy="115.63" r="2.3" fill="#f2301a"/>
<circle cx="383.4" cy="110.06" r="2.3" fill="#000"/>
<circle cx="383.1" cy="118.74" r="2.3" fill="#f2301a"/>
<circle cx="385.5" cy="110.83" r="2.3" fill="#000"/>
<circle cx="385.2" cy="115.24" r="2.3" fill="#f2301a"/>
<circle cx="387.6" cy="111.87" r="2.3" fill="#000"/>
<circle cx="387.3" cy="117.88" r="2.3" fill="#f2301a"/>
<circle cx="389.7" cy="111.97" r="2.3" fill="#000"/>
<circle cx="389.4" cy="117" r="2.3" fill="#f2301a"/>
<circle cx="391.8" cy="105.08" r="2.3" fill="#000"/>
<circle cx="391.5" cy="118.67" r="2.3" fill="#f2301a"/>
<circle cx="393.9" cy="112.34" r="2.3" fill="#000"/>
<circle cx="393.6" cy="119.05" r="2.3" fill="#f2301a"/>
<circle cx="396" cy="114.2" r="2.3" fill="#000"/>
<circle cx="395.7" cy="119.25" r="2.3" fill="#f2301a"/>
<circle cx="398.1" cy="110.16" r="2.3" fill="#000"/>
<circle cx="397.8" cy="117.04" r="2.3" fill="#f2301a"/>
<circle cx="400.2" cy="111.97" r="2.3" fill="#000"/>
<circle cx="399.9" cy="117.24" r="2.3" fill="#f2301a"/>
<circle cx="402.3" cy="108.25" r="2.3" fill="#000"/>
<circle cx="402" cy="116.32" r="2.3" fill="#f2301a"/>
<circle cx="404.4" cy="112.09" r="2.3" fill="#000"/>
<circle cx="404.1" cy="116.23" r="2.3" fill="#f2301a"/>
<circle cx="406.5" cy="111.31" r="2.3" fill="#000"/>
<circle cx="406.2" cy="117.36" r="2.3" fill="#f2301a"/>
<circle cx="408.6" cy="113.78" r="2.3" fill="#000"/>
<circle cx="408.3" cy="114.81" r="2.3" fill="#f2301a"/>
<circle cx="410.7" cy="110.78" r="2.3" fill="#000"/>
<circle cx="410.4" cy="116.53" r="2.3" fill="#f2301a"/>
<circle cx="412.8" cy="109.67" r="2.3" fill="#000"/>
<circle cx="412.5" cy="113.94" r="2.3" fill="#f2301a"/>
<circle cx="414.9" cy="108.88" r="2.3" fill="#000"/>
<circle cx="414.6" cy="110.8" r="2.3" fill="#f2301a"/>
<circle cx="417" cy="109.73" r="2.3" fill="#000"/>
<circle cx="416.7" cy="113.71" r="2.3" fill="#f2301a"/>
<path d="M261,63.4 L272.2,63.4 M272.2,56.6 L272.2,66.8 M272.2,63.6 L273.5,64.2 C275,66.5 276.8,78 278.5,88.6 C279.6,82 281.2,73 283.6,68 C286,63.3 289,61 293.5,60.1 C300,59.6 307,60.4 312.3,61.1" stroke="#111" stroke-width="1.5" fill="none" />
<path d="M276.9,75 C277.7,79 278.3,81.7 278.8,81.7 C279.3,81.7 279.9,79 280.8,75" stroke="#111" stroke-width="1.1" fill="none" />
<path d="M350.1,63.8 L361.3,63.8 M361.3,57 L361.3,70.5 M361.3,63.8 L362.6,64.5 C363.8,67 365,82 366.2,91.3 C367.4,86 369,78 371.5,72 C374,66.5 377.5,62.5 383,61.4 C390,60.8 396,60.9 402,60.9" stroke="#f2301a" stroke-width="1.3" fill="none" />
<path d="M365.2,76 C365.9,80 366.6,82.7 367.2,82.7 C367.9,82.7 368.6,80 369.5,76" stroke="#f2301a" stroke-width="1.0" fill="none" />
<path d="M408,75 L416.6,75 L416.6,61.4" stroke="#111" stroke-width="1.3" fill="none" />
<text x="422.7" y="75.3" font-size="8.3" fill="#1e1e1e" stroke="#1e1e1e" stroke-width="0.22" text-anchor="start" textLength="17.5" lengthAdjust="spacingAndGlyphs" >1 mV</text>
<text x="401" y="89.3" font-size="8.3" fill="#1e1e1e" stroke="#1e1e1e" stroke-width="0.22" text-anchor="start" textLength="20" lengthAdjust="spacingAndGlyphs" >10 ms</text>
<text x="393.9" y="148.9" font-size="8.3" fill="#f2301a" stroke="#f2301a" stroke-width="0.22" text-anchor="start" textLength="15" lengthAdjust="spacingAndGlyphs" >N=7</text>
<text x="393.6" y="161.1" font-size="8.3" fill="#1e1e1e" stroke="#1e1e1e" stroke-width="0.22" text-anchor="start" textLength="15.6" lengthAdjust="spacingAndGlyphs" >N=5</text>
<line x1="46.3" y1="225.2" x2="46.3" y2="333.1" stroke="#333" stroke-width="1" />
<line x1="43.3" y1="240.3" x2="46.3" y2="240.3" stroke="#333" stroke-width="1" />
<line x1="43.3" y1="270" x2="46.3" y2="270" stroke="#333" stroke-width="1" />
<line x1="43.3" y1="299.6" x2="46.3" y2="299.6" stroke="#333" stroke-width="1" />
<line x1="43.3" y1="330.1" x2="46.3" y2="330.1" stroke="#333" stroke-width="1" />
<line x1="46.3" y1="330.1" x2="216.3" y2="330.1" stroke="#333" stroke-width="1" />
<line x1="88.7" y1="330.1" x2="88.7" y2="333.1" stroke="#333" stroke-width="1" />
<line x1="131.6" y1="330.1" x2="131.6" y2="333.1" stroke="#333" stroke-width="1" />
<line x1="174" y1="330.1" x2="174" y2="333.1" stroke="#333" stroke-width="1" />
<line x1="216.2" y1="330.1" x2="216.2" y2="333.1" stroke="#333" stroke-width="1" />
<line x1="102.6" y1="298" x2="219" y2="298" stroke="#111" stroke-width="1.4" stroke-dasharray="4.2 3.4"/>
<line x1="111.5" y1="304.4" x2="111.5" y2="322" stroke="#111" stroke-width="1.6" />
<path d="M111.5,301.4 L114.3,307 L111.5,305.7 L108.7,307 Z" stroke="none" stroke-width="0" fill="#111" />
<circle cx="47.5" cy="302.89" r="2.15" fill="#f2301a"/>
<circle cx="49.65" cy="302.32" r="2.15" fill="#f2301a"/>
<circle cx="51.8" cy="301.9" r="2.15" fill="#f2301a"/>
<circle cx="53.95" cy="299.66" r="2.15" fill="#f2301a"/>
<circle cx="56.1" cy="300.99" r="2.15" fill="#f2301a"/>
<circle cx="58.25" cy="300.09" r="2.15" fill="#f2301a"/>
<circle cx="60.4" cy="302.2" r="2.15" fill="#f2301a"/>
<circle cx="62.55" cy="300.65" r="2.15" fill="#f2301a"/>
<circle cx="64.7" cy="299.36" r="2.15" fill="#f2301a"/>
<circle cx="66.85" cy="300.41" r="2.15" fill="#f2301a"/>
<circle cx="69" cy="298.81" r="2.15" fill="#f2301a"/>
<circle cx="71.15" cy="298.94" r="2.15" fill="#f2301a"/>
<circle cx="73.3" cy="300.67" r="2.15" fill="#f2301a"/>
<circle cx="75.45" cy="301.9" r="2.15" fill="#f2301a"/>
<circle cx="77.6" cy="299.11" r="2.15" fill="#f2301a"/>
<circle cx="79.75" cy="301.26" r="2.15" fill="#f2301a"/>
<circle cx="81.9" cy="301.58" r="2.15" fill="#f2301a"/>
<circle cx="84.05" cy="298.92" r="2.15" fill="#f2301a"/>
<circle cx="86.2" cy="298.43" r="2.15" fill="#f2301a"/>
<circle cx="88.35" cy="298.36" r="2.15" fill="#f2301a"/>
<circle cx="90.5" cy="297.85" r="2.15" fill="#f2301a"/>
<circle cx="92.65" cy="300.43" r="2.15" fill="#f2301a"/>
<circle cx="94.8" cy="300.77" r="2.15" fill="#f2301a"/>
<circle cx="96.95" cy="300.53" r="2.15" fill="#f2301a"/>
<circle cx="99.1" cy="297.39" r="2.15" fill="#f2301a"/>
<circle cx="48" cy="301.21" r="2.15" fill="#000"/>
<circle cx="50.15" cy="300.76" r="2.15" fill="#000"/>
<circle cx="52.3" cy="299.49" r="2.15" fill="#000"/>
<circle cx="54.45" cy="298.18" r="2.15" fill="#000"/>
<circle cx="56.6" cy="300.64" r="2.15" fill="#000"/>
<circle cx="58.75" cy="300.76" r="2.15" fill="#000"/>
<circle cx="60.9" cy="300.22" r="2.15" fill="#000"/>
<circle cx="63.05" cy="297.84" r="2.15" fill="#000"/>
<circle cx="65.2" cy="300.6" r="2.15" fill="#000"/>
<circle cx="67.35" cy="297.92" r="2.15" fill="#000"/>
<circle cx="69.5" cy="298.27" r="2.15" fill="#000"/>
<circle cx="71.65" cy="300.65" r="2.15" fill="#000"/>
<circle cx="73.8" cy="304.35" r="2.15" fill="#000"/>
<circle cx="75.95" cy="299.24" r="2.15" fill="#000"/>
<circle cx="78.1" cy="299.4" r="2.15" fill="#000"/>
<circle cx="80.25" cy="296.77" r="2.15" fill="#000"/>
<circle cx="82.4" cy="300.84" r="2.15" fill="#000"/>
<circle cx="84.55" cy="301.17" r="2.15" fill="#000"/>
<circle cx="86.7" cy="297.02" r="2.15" fill="#000"/>
<circle cx="88.85" cy="299.44" r="2.15" fill="#000"/>
<circle cx="91" cy="300.37" r="2.15" fill="#000"/>
<circle cx="93.15" cy="299.77" r="2.15" fill="#000"/>
<circle cx="95.3" cy="299.62" r="2.15" fill="#000"/>
<circle cx="97.45" cy="296.95" r="2.15" fill="#000"/>
<circle cx="99.6" cy="300.31" r="2.15" fill="#000"/>
<line x1="127.4" y1="277.03" x2="127.4" y2="272.03" stroke="#111" stroke-width="0.8" />
<line x1="125.2" y1="272.03" x2="129.6" y2="272.03" stroke="#111" stroke-width="0.9" />
<line x1="131.6" y1="283.22" x2="131.6" y2="279.27" stroke="#111" stroke-width="0.8" />
<line x1="129.4" y1="279.27" x2="133.8" y2="279.27" stroke="#111" stroke-width="0.9" />
<line x1="133.7" y1="284.31" x2="133.7" y2="280.69" stroke="#111" stroke-width="0.8" />
<line x1="131.5" y1="280.69" x2="135.9" y2="280.69" stroke="#111" stroke-width="0.9" />
<line x1="140" y1="288.83" x2="140" y2="285.78" stroke="#111" stroke-width="0.8" />
<line x1="137.8" y1="285.78" x2="142.2" y2="285.78" stroke="#111" stroke-width="0.9" />
<line x1="144.2" y1="290.2" x2="144.2" y2="286.58" stroke="#111" stroke-width="0.8" />
<line x1="142" y1="286.58" x2="146.4" y2="286.58" stroke="#111" stroke-width="0.9" />
<line x1="146.3" y1="289.64" x2="146.3" y2="285.71" stroke="#111" stroke-width="0.8" />
<line x1="144.1" y1="285.71" x2="148.5" y2="285.71" stroke="#111" stroke-width="0.9" />
<line x1="148.4" y1="292.08" x2="148.4" y2="288.49" stroke="#111" stroke-width="0.8" />
<line x1="146.2" y1="288.49" x2="150.6" y2="288.49" stroke="#111" stroke-width="0.9" />
<line x1="150.5" y1="292.67" x2="150.5" y2="290.13" stroke="#111" stroke-width="0.8" />
<line x1="148.3" y1="290.13" x2="152.7" y2="290.13" stroke="#111" stroke-width="0.9" />
<line x1="154.7" y1="291.33" x2="154.7" y2="288.48" stroke="#111" stroke-width="0.8" />
<line x1="152.5" y1="288.48" x2="156.9" y2="288.48" stroke="#111" stroke-width="0.9" />
<line x1="156.8" y1="291.58" x2="156.8" y2="288.84" stroke="#111" stroke-width="0.8" />
<line x1="154.6" y1="288.84" x2="159" y2="288.84" stroke="#111" stroke-width="0.9" />
<line x1="158.9" y1="293.96" x2="158.9" y2="291.35" stroke="#111" stroke-width="0.8" />
<line x1="156.7" y1="291.35" x2="161.1" y2="291.35" stroke="#111" stroke-width="0.9" />
<line x1="163.1" y1="293.73" x2="163.1" y2="290.99" stroke="#111" stroke-width="0.8" />
<line x1="160.9" y1="290.99" x2="165.3" y2="290.99" stroke="#111" stroke-width="0.9" />
<line x1="165.2" y1="292.94" x2="165.2" y2="289.08" stroke="#111" stroke-width="0.8" />
<line x1="163" y1="289.08" x2="167.4" y2="289.08" stroke="#111" stroke-width="0.9" />
<line x1="167.3" y1="292.52" x2="167.3" y2="288.79" stroke="#111" stroke-width="0.8" />
<line x1="165.1" y1="288.79" x2="169.5" y2="288.79" stroke="#111" stroke-width="0.9" />
<line x1="171.5" y1="293.28" x2="171.5" y2="290.19" stroke="#111" stroke-width="0.8" />
<line x1="169.3" y1="290.19" x2="173.7" y2="290.19" stroke="#111" stroke-width="0.9" />
<line x1="173.6" y1="294.55" x2="173.6" y2="291.66" stroke="#111" stroke-width="0.8" />
<line x1="171.4" y1="291.66" x2="175.8" y2="291.66" stroke="#111" stroke-width="0.9" />
<line x1="175.7" y1="294.39" x2="175.7" y2="290.44" stroke="#111" stroke-width="0.8" />
<line x1="173.5" y1="290.44" x2="177.9" y2="290.44" stroke="#111" stroke-width="0.9" />
<line x1="177.8" y1="295.54" x2="177.8" y2="291.91" stroke="#111" stroke-width="0.8" />
<line x1="175.6" y1="291.91" x2="180" y2="291.91" stroke="#111" stroke-width="0.9" />
<line x1="186.2" y1="294.49" x2="186.2" y2="291.84" stroke="#111" stroke-width="0.8" />
<line x1="184" y1="291.84" x2="188.4" y2="291.84" stroke="#111" stroke-width="0.9" />
<line x1="188.3" y1="294.6" x2="188.3" y2="290.82" stroke="#111" stroke-width="0.8" />
<line x1="186.1" y1="290.82" x2="190.5" y2="290.82" stroke="#111" stroke-width="0.9" />
<line x1="190.4" y1="295.21" x2="190.4" y2="291.69" stroke="#111" stroke-width="0.8" />
<line x1="188.2" y1="291.69" x2="192.6" y2="291.69" stroke="#111" stroke-width="0.9" />
<line x1="192.5" y1="295.1" x2="192.5" y2="291.73" stroke="#111" stroke-width="0.8" />
<line x1="190.3" y1="291.73" x2="194.7" y2="291.73" stroke="#111" stroke-width="0.9" />
<line x1="194.6" y1="295.68" x2="194.6" y2="292.01" stroke="#111" stroke-width="0.8" />
<line x1="192.4" y1="292.01" x2="196.8" y2="292.01" stroke="#111" stroke-width="0.9" />
<line x1="198.8" y1="294.58" x2="198.8" y2="291.08" stroke="#111" stroke-width="0.8" />
<line x1="196.6" y1="291.08" x2="201" y2="291.08" stroke="#111" stroke-width="0.9" />
<line x1="200.9" y1="294.02" x2="200.9" y2="290.1" stroke="#111" stroke-width="0.8" />
<line x1="198.7" y1="290.1" x2="203.1" y2="290.1" stroke="#111" stroke-width="0.9" />
<line x1="203" y1="293.81" x2="203" y2="291.12" stroke="#111" stroke-width="0.8" />
<line x1="200.8" y1="291.12" x2="205.2" y2="291.12" stroke="#111" stroke-width="0.9" />
<line x1="209.3" y1="295.57" x2="209.3" y2="292.37" stroke="#111" stroke-width="0.8" />
<line x1="207.1" y1="292.37" x2="211.5" y2="292.37" stroke="#111" stroke-width="0.9" />
<line x1="213.5" y1="293.88" x2="213.5" y2="290.25" stroke="#111" stroke-width="0.8" />
<line x1="211.3" y1="290.25" x2="215.7" y2="290.25" stroke="#111" stroke-width="0.9" />
<line x1="215.6" y1="295.16" x2="215.6" y2="292" stroke="#111" stroke-width="0.8" />
<line x1="213.4" y1="292" x2="217.8" y2="292" stroke="#111" stroke-width="0.9" />
<circle cx="125.3" cy="259.8" r="2.3" fill="#f2301a"/>
<circle cx="127.4" cy="277.03" r="2.3" fill="#f2301a"/>
<circle cx="129.5" cy="283.09" r="2.3" fill="#f2301a"/>
<circle cx="131.6" cy="283.22" r="2.3" fill="#f2301a"/>
<circle cx="133.7" cy="284.31" r="2.3" fill="#f2301a"/>
<circle cx="135.8" cy="288.53" r="2.3" fill="#f2301a"/>
<circle cx="137.9" cy="286.95" r="2.3" fill="#f2301a"/>
<circle cx="140" cy="288.83" r="2.3" fill="#f2301a"/>
<circle cx="142.1" cy="289.36" r="2.3" fill="#f2301a"/>
<circle cx="144.2" cy="290.2" r="2.3" fill="#f2301a"/>
<circle cx="146.3" cy="289.64" r="2.3" fill="#f2301a"/>
<circle cx="148.4" cy="292.08" r="2.3" fill="#f2301a"/>
<circle cx="150.5" cy="292.67" r="2.3" fill="#f2301a"/>
<circle cx="152.6" cy="291.72" r="2.3" fill="#f2301a"/>
<circle cx="154.7" cy="291.33" r="2.3" fill="#f2301a"/>
<circle cx="156.8" cy="291.58" r="2.3" fill="#f2301a"/>
<circle cx="158.9" cy="293.96" r="2.3" fill="#f2301a"/>
<circle cx="161" cy="294.21" r="2.3" fill="#f2301a"/>
<circle cx="163.1" cy="293.73" r="2.3" fill="#f2301a"/>
<circle cx="165.2" cy="292.94" r="2.3" fill="#f2301a"/>
<circle cx="167.3" cy="292.52" r="2.3" fill="#f2301a"/>
<circle cx="169.4" cy="293.19" r="2.3" fill="#f2301a"/>
<circle cx="171.5" cy="293.28" r="2.3" fill="#f2301a"/>
<circle cx="173.6" cy="294.55" r="2.3" fill="#f2301a"/>
<circle cx="175.7" cy="294.39" r="2.3" fill="#f2301a"/>
<circle cx="177.8" cy="295.54" r="2.3" fill="#f2301a"/>
<circle cx="179.9" cy="295.47" r="2.3" fill="#f2301a"/>
<circle cx="182" cy="295.83" r="2.3" fill="#f2301a"/>
<circle cx="184.1" cy="294.73" r="2.3" fill="#f2301a"/>
<circle cx="186.2" cy="294.49" r="2.3" fill="#f2301a"/>
<circle cx="188.3" cy="294.6" r="2.3" fill="#f2301a"/>
<circle cx="190.4" cy="295.21" r="2.3" fill="#f2301a"/>
<circle cx="192.5" cy="295.1" r="2.3" fill="#f2301a"/>
<circle cx="194.6" cy="295.68" r="2.3" fill="#f2301a"/>
<circle cx="196.7" cy="293.8" r="2.3" fill="#f2301a"/>
<circle cx="198.8" cy="294.58" r="2.3" fill="#f2301a"/>
<circle cx="200.9" cy="294.02" r="2.3" fill="#f2301a"/>
<circle cx="203" cy="293.81" r="2.3" fill="#f2301a"/>
<circle cx="205.1" cy="295.58" r="2.3" fill="#f2301a"/>
<circle cx="207.2" cy="296.12" r="2.3" fill="#f2301a"/>
<circle cx="209.3" cy="295.57" r="2.3" fill="#f2301a"/>
<circle cx="211.4" cy="293.49" r="2.3" fill="#f2301a"/>
<circle cx="213.5" cy="293.88" r="2.3" fill="#f2301a"/>
<circle cx="215.6" cy="295.16" r="2.3" fill="#f2301a"/>
<line x1="125.3" y1="236.04" x2="125.3" y2="230.04" stroke="#111" stroke-width="0.8" />
<line x1="123.1" y1="230.04" x2="127.5" y2="230.04" stroke="#111" stroke-width="0.9" />
<line x1="127.4" y1="253.86" x2="127.4" y2="249.86" stroke="#111" stroke-width="0.8" />
<line x1="125.2" y1="249.86" x2="129.6" y2="249.86" stroke="#111" stroke-width="0.9" />
<line x1="131.6" y1="259.94" x2="131.6" y2="255.69" stroke="#111" stroke-width="0.8" />
<line x1="129.4" y1="255.69" x2="133.8" y2="255.69" stroke="#111" stroke-width="0.9" />
<line x1="133.7" y1="258.4" x2="133.7" y2="254.65" stroke="#111" stroke-width="0.8" />
<line x1="131.5" y1="254.65" x2="135.9" y2="254.65" stroke="#111" stroke-width="0.9" />
<line x1="135.8" y1="259.06" x2="135.8" y2="255.1" stroke="#111" stroke-width="0.8" />
<line x1="133.6" y1="255.1" x2="138" y2="255.1" stroke="#111" stroke-width="0.9" />
<line x1="137.9" y1="259.22" x2="137.9" y2="255.6" stroke="#111" stroke-width="0.8" />
<line x1="135.7" y1="255.6" x2="140.1" y2="255.6" stroke="#111" stroke-width="0.9" />
<line x1="140" y1="263.58" x2="140" y2="259.93" stroke="#111" stroke-width="0.8" />
<line x1="137.8" y1="259.93" x2="142.2" y2="259.93" stroke="#111" stroke-width="0.9" />
<line x1="142.1" y1="260.88" x2="142.1" y2="256.42" stroke="#111" stroke-width="0.8" />
<line x1="139.9" y1="256.42" x2="144.3" y2="256.42" stroke="#111" stroke-width="0.9" />
<line x1="144.2" y1="261.16" x2="144.2" y2="257.05" stroke="#111" stroke-width="0.8" />
<line x1="142" y1="257.05" x2="146.4" y2="257.05" stroke="#111" stroke-width="0.9" />
<line x1="148.4" y1="269.01" x2="148.4" y2="266.26" stroke="#111" stroke-width="0.8" />
<line x1="146.2" y1="266.26" x2="150.6" y2="266.26" stroke="#111" stroke-width="0.9" />
<line x1="150.5" y1="264.69" x2="150.5" y2="260.66" stroke="#111" stroke-width="0.8" />
<line x1="148.3" y1="260.66" x2="152.7" y2="260.66" stroke="#111" stroke-width="0.9" />
<line x1="152.6" y1="265.2" x2="152.6" y2="262.33" stroke="#111" stroke-width="0.8" />
<line x1="150.4" y1="262.33" x2="154.8" y2="262.33" stroke="#111" stroke-width="0.9" />
<line x1="154.7" y1="262.26" x2="154.7" y2="259.11" stroke="#111" stroke-width="0.8" />
<line x1="152.5" y1="259.11" x2="156.9" y2="259.11" stroke="#111" stroke-width="0.9" />
<line x1="158.9" y1="266.12" x2="158.9" y2="262.43" stroke="#111" stroke-width="0.8" />
<line x1="156.7" y1="262.43" x2="161.1" y2="262.43" stroke="#111" stroke-width="0.9" />
<line x1="161" y1="266.09" x2="161" y2="261.62" stroke="#111" stroke-width="0.8" />
<line x1="158.8" y1="261.62" x2="163.2" y2="261.62" stroke="#111" stroke-width="0.9" />
<line x1="163.1" y1="265" x2="163.1" y2="260.74" stroke="#111" stroke-width="0.8" />
<line x1="160.9" y1="260.74" x2="165.3" y2="260.74" stroke="#111" stroke-width="0.9" />
<line x1="165.2" y1="267.66" x2="165.2" y2="264.42" stroke="#111" stroke-width="0.8" />
<line x1="163" y1="264.42" x2="167.4" y2="264.42" stroke="#111" stroke-width="0.9" />
<line x1="167.3" y1="264.38" x2="167.3" y2="260.89" stroke="#111" stroke-width="0.8" />
<line x1="165.1" y1="260.89" x2="169.5" y2="260.89" stroke="#111" stroke-width="0.9" />
<line x1="175.7" y1="262.56" x2="175.7" y2="259.59" stroke="#111" stroke-width="0.8" />
<line x1="173.5" y1="259.59" x2="177.9" y2="259.59" stroke="#111" stroke-width="0.9" />
<line x1="177.8" y1="264.8" x2="177.8" y2="261" stroke="#111" stroke-width="0.8" />
<line x1="175.6" y1="261" x2="180" y2="261" stroke="#111" stroke-width="0.9" />
<line x1="179.9" y1="264.07" x2="179.9" y2="259.6" stroke="#111" stroke-width="0.8" />
<line x1="177.7" y1="259.6" x2="182.1" y2="259.6" stroke="#111" stroke-width="0.9" />
<line x1="182" y1="271.38" x2="182" y2="268.41" stroke="#111" stroke-width="0.8" />
<line x1="179.8" y1="268.41" x2="184.2" y2="268.41" stroke="#111" stroke-width="0.9" />
<line x1="184.1" y1="273.29" x2="184.1" y2="270.45" stroke="#111" stroke-width="0.8" />
<line x1="181.9" y1="270.45" x2="186.3" y2="270.45" stroke="#111" stroke-width="0.9" />
<line x1="186.2" y1="266.84" x2="186.2" y2="263.86" stroke="#111" stroke-width="0.8" />
<line x1="184" y1="263.86" x2="188.4" y2="263.86" stroke="#111" stroke-width="0.9" />
<line x1="188.3" y1="268.79" x2="188.3" y2="264.41" stroke="#111" stroke-width="0.8" />
<line x1="186.1" y1="264.41" x2="190.5" y2="264.41" stroke="#111" stroke-width="0.9" />
<line x1="190.4" y1="267.44" x2="190.4" y2="263.7" stroke="#111" stroke-width="0.8" />
<line x1="188.2" y1="263.7" x2="192.6" y2="263.7" stroke="#111" stroke-width="0.9" />
<line x1="192.5" y1="263.39" x2="192.5" y2="260.55" stroke="#111" stroke-width="0.8" />
<line x1="190.3" y1="260.55" x2="194.7" y2="260.55" stroke="#111" stroke-width="0.9" />
<line x1="194.6" y1="264.26" x2="194.6" y2="260.3" stroke="#111" stroke-width="0.8" />
<line x1="192.4" y1="260.3" x2="196.8" y2="260.3" stroke="#111" stroke-width="0.9" />
<line x1="196.7" y1="267.98" x2="196.7" y2="264.18" stroke="#111" stroke-width="0.8" />
<line x1="194.5" y1="264.18" x2="198.9" y2="264.18" stroke="#111" stroke-width="0.9" />
<line x1="198.8" y1="266.8" x2="198.8" y2="262.92" stroke="#111" stroke-width="0.8" />
<line x1="196.6" y1="262.92" x2="201" y2="262.92" stroke="#111" stroke-width="0.9" />
<line x1="200.9" y1="267.27" x2="200.9" y2="264.48" stroke="#111" stroke-width="0.8" />
<line x1="198.7" y1="264.48" x2="203.1" y2="264.48" stroke="#111" stroke-width="0.9" />
<line x1="203" y1="267.09" x2="203" y2="263.01" stroke="#111" stroke-width="0.8" />
<line x1="200.8" y1="263.01" x2="205.2" y2="263.01" stroke="#111" stroke-width="0.9" />
<line x1="205.1" y1="268.67" x2="205.1" y2="266" stroke="#111" stroke-width="0.8" />
<line x1="202.9" y1="266" x2="207.3" y2="266" stroke="#111" stroke-width="0.9" />
<line x1="209.3" y1="266.9" x2="209.3" y2="263.84" stroke="#111" stroke-width="0.8" />
<line x1="207.1" y1="263.84" x2="211.5" y2="263.84" stroke="#111" stroke-width="0.9" />
<line x1="211.4" y1="266.37" x2="211.4" y2="263.27" stroke="#111" stroke-width="0.8" />
<line x1="209.2" y1="263.27" x2="213.6" y2="263.27" stroke="#111" stroke-width="0.9" />
<line x1="213.5" y1="267.61" x2="213.5" y2="263.31" stroke="#111" stroke-width="0.8" />
<line x1="211.3" y1="263.31" x2="215.7" y2="263.31" stroke="#111" stroke-width="0.9" />
<line x1="215.6" y1="268.06" x2="215.6" y2="264.56" stroke="#111" stroke-width="0.8" />
<line x1="213.4" y1="264.56" x2="217.8" y2="264.56" stroke="#111" stroke-width="0.9" />
<circle cx="125.3" cy="236.04" r="2.15" fill="#000"/>
<circle cx="127.4" cy="253.86" r="2.15" fill="#000"/>
<circle cx="129.5" cy="256.73" r="2.15" fill="#000"/>
<circle cx="131.6" cy="259.94" r="2.15" fill="#000"/>
<circle cx="133.7" cy="258.4" r="2.15" fill="#000"/>
<circle cx="135.8" cy="259.06" r="2.15" fill="#000"/>
<circle cx="137.9" cy="259.22" r="2.15" fill="#000"/>
<circle cx="140" cy="263.58" r="2.15" fill="#000"/>
<circle cx="142.1" cy="260.88" r="2.15" fill="#000"/>
<circle cx="144.2" cy="261.16" r="2.15" fill="#000"/>
<circle cx="146.3" cy="262.63" r="2.15" fill="#000"/>
<circle cx="148.4" cy="269.01" r="2.15" fill="#000"/>
<circle cx="150.5" cy="264.69" r="2.15" fill="#000"/>
<circle cx="152.6" cy="265.2" r="2.15" fill="#000"/>
<circle cx="154.7" cy="262.26" r="2.15" fill="#000"/>
<circle cx="156.8" cy="264.11" r="2.15" fill="#000"/>
<circle cx="158.9" cy="266.12" r="2.15" fill="#000"/>
<circle cx="161" cy="266.09" r="2.15" fill="#000"/>
<circle cx="163.1" cy="265" r="2.15" fill="#000"/>
<circle cx="165.2" cy="267.66" r="2.15" fill="#000"/>
<circle cx="167.3" cy="264.38" r="2.15" fill="#000"/>
<circle cx="169.4" cy="263.64" r="2.15" fill="#000"/>
<circle cx="171.5" cy="265.5" r="2.15" fill="#000"/>
<circle cx="173.6" cy="263.03" r="2.15" fill="#000"/>
<circle cx="175.7" cy="262.56" r="2.15" fill="#000"/>
<circle cx="177.8" cy="264.8" r="2.15" fill="#000"/>
<circle cx="179.9" cy="264.07" r="2.15" fill="#000"/>
<circle cx="182" cy="271.38" r="2.15" fill="#000"/>
<circle cx="184.1" cy="273.29" r="2.15" fill="#000"/>
<circle cx="186.2" cy="266.84" r="2.15" fill="#000"/>
<circle cx="188.3" cy="268.79" r="2.15" fill="#000"/>
<circle cx="190.4" cy="267.44" r="2.15" fill="#000"/>
<circle cx="192.5" cy="263.39" r="2.15" fill="#000"/>
<circle cx="194.6" cy="264.26" r="2.15" fill="#000"/>
<circle cx="196.7" cy="267.98" r="2.15" fill="#000"/>
<circle cx="198.8" cy="266.8" r="2.15" fill="#000"/>
<circle cx="200.9" cy="267.27" r="2.15" fill="#000"/>
<circle cx="203" cy="267.09" r="2.15" fill="#000"/>
<circle cx="205.1" cy="268.67" r="2.15" fill="#000"/>
<circle cx="207.2" cy="265.6" r="2.15" fill="#000"/>
<circle cx="209.3" cy="266.9" r="2.15" fill="#000"/>
<circle cx="211.4" cy="266.37" r="2.15" fill="#000"/>
<circle cx="213.5" cy="267.61" r="2.15" fill="#000"/>
<circle cx="215.6" cy="268.06" r="2.15" fill="#000"/>
<text x="190.8" y="311" font-size="8.3" fill="#1e1e1e" stroke="#1e1e1e" stroke-width="0.22" text-anchor="start" textLength="20.9" lengthAdjust="spacingAndGlyphs" >N=11</text>
<text x="190.8" y="322.7" font-size="8.3" fill="#f2301a" stroke="#f2301a" stroke-width="0.22" text-anchor="start" textLength="20.9" lengthAdjust="spacingAndGlyphs" >N=12</text>
<line x1="248.6" y1="225.1" x2="248.6" y2="332.8" stroke="#333" stroke-width="1" />
<line x1="245.6" y1="239.9" x2="248.6" y2="239.9" stroke="#333" stroke-width="1" />
<line x1="245.6" y1="270.3" x2="248.6" y2="270.3" stroke="#333" stroke-width="1" />
<line x1="245.6" y1="299.8" x2="248.6" y2="299.8" stroke="#333" stroke-width="1" />
<line x1="245.6" y1="329.8" x2="248.6" y2="329.8" stroke="#333" stroke-width="1" />
<line x1="248.6" y1="329.8" x2="419" y2="329.8" stroke="#333" stroke-width="1" />
<line x1="291.4" y1="329.8" x2="291.4" y2="332.8" stroke="#333" stroke-width="1" />
<line x1="334.2" y1="329.8" x2="334.2" y2="332.8" stroke="#333" stroke-width="1" />
<line x1="376.5" y1="329.8" x2="376.5" y2="332.8" stroke="#333" stroke-width="1" />
<line x1="419" y1="329.8" x2="419" y2="332.8" stroke="#333" stroke-width="1" />
<line x1="304.8" y1="298.1" x2="422.2" y2="298.1" stroke="#111" stroke-width="1.4" stroke-dasharray="4.2 3.4"/>
<line x1="312" y1="305.5" x2="312" y2="323" stroke="#111" stroke-width="1.6" />
<path d="M312,302.5 L314.8,308.1 L312,306.8 L309.2,308.1 Z" stroke="none" stroke-width="0" fill="#111" />
<circle cx="250" cy="299.77" r="2.15" fill="#000"/>
<circle cx="252.15" cy="300.52" r="2.15" fill="#000"/>
<circle cx="254.3" cy="300.85" r="2.15" fill="#000"/>
<circle cx="256.45" cy="297.29" r="2.15" fill="#000"/>
<circle cx="258.6" cy="298.92" r="2.15" fill="#000"/>
<circle cx="260.75" cy="298.41" r="2.15" fill="#000"/>
<circle cx="262.9" cy="299.09" r="2.15" fill="#000"/>
<circle cx="265.05" cy="299.93" r="2.15" fill="#000"/>
<circle cx="267.2" cy="298.29" r="2.15" fill="#000"/>
<circle cx="269.35" cy="299.05" r="2.15" fill="#000"/>
<circle cx="271.5" cy="298.1" r="2.15" fill="#000"/>
<circle cx="273.65" cy="298.69" r="2.15" fill="#000"/>
<circle cx="275.8" cy="297.87" r="2.15" fill="#000"/>
<circle cx="277.95" cy="299.81" r="2.15" fill="#000"/>
<circle cx="280.1" cy="301.19" r="2.15" fill="#000"/>
<circle cx="282.25" cy="301.24" r="2.15" fill="#000"/>
<circle cx="284.4" cy="298.52" r="2.15" fill="#000"/>
<circle cx="286.55" cy="301.21" r="2.15" fill="#000"/>
<circle cx="288.7" cy="298.9" r="2.15" fill="#000"/>
<circle cx="290.85" cy="299.08" r="2.15" fill="#000"/>
<circle cx="293" cy="301.8" r="2.15" fill="#000"/>
<circle cx="295.15" cy="298.35" r="2.15" fill="#000"/>
<circle cx="297.3" cy="301.97" r="2.15" fill="#000"/>
<circle cx="299.45" cy="298" r="2.15" fill="#000"/>
<circle cx="301.6" cy="298.15" r="2.15" fill="#000"/>
<circle cx="249.5" cy="300.4" r="2.15" fill="#f2301a"/>
<circle cx="251.65" cy="302.99" r="2.15" fill="#f2301a"/>
<circle cx="253.8" cy="301.84" r="2.15" fill="#f2301a"/>
<circle cx="255.95" cy="301.99" r="2.15" fill="#f2301a"/>
<circle cx="258.1" cy="299.7" r="2.15" fill="#f2301a"/>
<circle cx="260.25" cy="299.89" r="2.15" fill="#f2301a"/>
<circle cx="262.4" cy="298.89" r="2.15" fill="#f2301a"/>
<circle cx="264.55" cy="302.29" r="2.15" fill="#f2301a"/>
<circle cx="266.7" cy="300.77" r="2.15" fill="#f2301a"/>
<circle cx="268.85" cy="302.39" r="2.15" fill="#f2301a"/>
<circle cx="271" cy="301.5" r="2.15" fill="#f2301a"/>
<circle cx="273.15" cy="300.19" r="2.15" fill="#f2301a"/>
<circle cx="275.3" cy="302.18" r="2.15" fill="#f2301a"/>
<circle cx="277.45" cy="301.37" r="2.15" fill="#f2301a"/>
<circle cx="279.6" cy="299.35" r="2.15" fill="#f2301a"/>
<circle cx="281.75" cy="299.73" r="2.15" fill="#f2301a"/>
<circle cx="283.9" cy="301.05" r="2.15" fill="#f2301a"/>
<circle cx="286.05" cy="299.39" r="2.15" fill="#f2301a"/>
<circle cx="288.2" cy="298.37" r="2.15" fill="#f2301a"/>
<circle cx="290.35" cy="301.76" r="2.15" fill="#f2301a"/>
<circle cx="292.5" cy="298.24" r="2.15" fill="#f2301a"/>
<circle cx="294.65" cy="298.63" r="2.15" fill="#f2301a"/>
<circle cx="296.8" cy="300.1" r="2.15" fill="#f2301a"/>
<circle cx="298.95" cy="300.82" r="2.15" fill="#f2301a"/>
<circle cx="301.1" cy="297.29" r="2.15" fill="#f2301a"/>
<circle cx="303.25" cy="299.91" r="2.15" fill="#f2301a"/>
<line x1="327.6" y1="233.31" x2="327.6" y2="246.31" stroke="#111" stroke-width="0.8" />
<line x1="325.4" y1="246.31" x2="329.8" y2="246.31" stroke="#111" stroke-width="0.9" />
<line x1="329.7" y1="261.1" x2="329.7" y2="267.8" stroke="#111" stroke-width="0.8" />
<line x1="327.5" y1="267.8" x2="331.9" y2="267.8" stroke="#111" stroke-width="0.9" />
<line x1="331.8" y1="266.04" x2="331.8" y2="271.1" stroke="#111" stroke-width="0.8" />
<line x1="329.6" y1="271.1" x2="334" y2="271.1" stroke="#111" stroke-width="0.9" />
<line x1="333.9" y1="266.45" x2="333.9" y2="272.04" stroke="#111" stroke-width="0.8" />
<line x1="331.7" y1="272.04" x2="336.1" y2="272.04" stroke="#111" stroke-width="0.9" />
<line x1="336" y1="264.44" x2="336" y2="273.16" stroke="#111" stroke-width="0.8" />
<line x1="333.8" y1="273.16" x2="338.2" y2="273.16" stroke="#111" stroke-width="0.9" />
<line x1="338.1" y1="263.41" x2="338.1" y2="271.53" stroke="#111" stroke-width="0.8" />
<line x1="335.9" y1="271.53" x2="340.3" y2="271.53" stroke="#111" stroke-width="0.9" />
<line x1="340.2" y1="264.63" x2="340.2" y2="273.6" stroke="#111" stroke-width="0.8" />
<line x1="338" y1="273.6" x2="342.4" y2="273.6" stroke="#111" stroke-width="0.9" />
<line x1="344.4" y1="266.19" x2="344.4" y2="275.43" stroke="#111" stroke-width="0.8" />
<line x1="342.2" y1="275.43" x2="346.6" y2="275.43" stroke="#111" stroke-width="0.9" />
<line x1="348.6" y1="267.51" x2="348.6" y2="274.55" stroke="#111" stroke-width="0.8" />
<line x1="346.4" y1="274.55" x2="350.8" y2="274.55" stroke="#111" stroke-width="0.9" />
<line x1="354.9" y1="267.14" x2="354.9" y2="273.39" stroke="#111" stroke-width="0.8" />
<line x1="352.7" y1="273.39" x2="357.1" y2="273.39" stroke="#111" stroke-width="0.9" />
<line x1="361.2" y1="266.61" x2="361.2" y2="272.06" stroke="#111" stroke-width="0.8" />
<line x1="359" y1="272.06" x2="363.4" y2="272.06" stroke="#111" stroke-width="0.9" />
<line x1="365.4" y1="267.69" x2="365.4" y2="274.62" stroke="#111" stroke-width="0.8" />
<line x1="363.2" y1="274.62" x2="367.6" y2="274.62" stroke="#111" stroke-width="0.9" />
<line x1="384.3" y1="264.62" x2="384.3" y2="274.17" stroke="#111" stroke-width="0.8" />
<line x1="382.1" y1="274.17" x2="386.5" y2="274.17" stroke="#111" stroke-width="0.9" />
<line x1="388.5" y1="261.16" x2="388.5" y2="269.3" stroke="#111" stroke-width="0.8" />
<line x1="386.3" y1="269.3" x2="390.7" y2="269.3" stroke="#111" stroke-width="0.9" />
<line x1="390.6" y1="261.41" x2="390.6" y2="268.91" stroke="#111" stroke-width="0.8" />
<line x1="388.4" y1="268.91" x2="392.8" y2="268.91" stroke="#111" stroke-width="0.9" />
<line x1="394.8" y1="260.98" x2="394.8" y2="268.05" stroke="#111" stroke-width="0.8" />
<line x1="392.6" y1="268.05" x2="397" y2="268.05" stroke="#111" stroke-width="0.9" />
<line x1="399" y1="263.55" x2="399" y2="270.83" stroke="#111" stroke-width="0.8" />
<line x1="396.8" y1="270.83" x2="401.2" y2="270.83" stroke="#111" stroke-width="0.9" />
<line x1="401.1" y1="260.72" x2="401.1" y2="267.64" stroke="#111" stroke-width="0.8" />
<line x1="398.9" y1="267.64" x2="403.3" y2="267.64" stroke="#111" stroke-width="0.9" />
<line x1="407.4" y1="260.98" x2="407.4" y2="270.27" stroke="#111" stroke-width="0.8" />
<line x1="405.2" y1="270.27" x2="409.6" y2="270.27" stroke="#111" stroke-width="0.9" />
<line x1="413.7" y1="259.45" x2="413.7" y2="265.95" stroke="#111" stroke-width="0.8" />
<line x1="411.5" y1="265.95" x2="415.9" y2="265.95" stroke="#111" stroke-width="0.9" />
<line x1="415.8" y1="258.49" x2="415.8" y2="266.6" stroke="#111" stroke-width="0.8" />
<line x1="413.6" y1="266.6" x2="418" y2="266.6" stroke="#111" stroke-width="0.9" />
<line x1="417.9" y1="259.97" x2="417.9" y2="269.69" stroke="#111" stroke-width="0.8" />
<line x1="415.7" y1="269.69" x2="420.1" y2="269.69" stroke="#111" stroke-width="0.9" />
<circle cx="327.6" cy="233.31" r="2.15" fill="#000"/>
<circle cx="329.7" cy="261.1" r="2.15" fill="#000"/>
<circle cx="331.8" cy="266.04" r="2.15" fill="#000"/>
<circle cx="333.9" cy="266.45" r="2.15" fill="#000"/>
<circle cx="336" cy="264.44" r="2.15" fill="#000"/>
<circle cx="338.1" cy="263.41" r="2.15" fill="#000"/>
<circle cx="340.2" cy="264.63" r="2.15" fill="#000"/>
<circle cx="342.3" cy="264.47" r="2.15" fill="#000"/>
<circle cx="344.4" cy="266.19" r="2.15" fill="#000"/>
<circle cx="346.5" cy="265.78" r="2.15" fill="#000"/>
<circle cx="348.6" cy="267.51" r="2.15" fill="#000"/>
<circle cx="350.7" cy="266.79" r="2.15" fill="#000"/>
<circle cx="352.8" cy="267.88" r="2.15" fill="#000"/>
<circle cx="354.9" cy="267.14" r="2.15" fill="#000"/>
<circle cx="357" cy="268.29" r="2.15" fill="#000"/>
<circle cx="359.1" cy="269.22" r="2.15" fill="#000"/>
<circle cx="361.2" cy="266.61" r="2.15" fill="#000"/>
<circle cx="363.3" cy="266.41" r="2.15" fill="#000"/>
<circle cx="365.4" cy="267.69" r="2.15" fill="#000"/>
<circle cx="367.5" cy="268.38" r="2.15" fill="#000"/>
<circle cx="369.6" cy="266.33" r="2.15" fill="#000"/>
<circle cx="371.7" cy="265.76" r="2.15" fill="#000"/>
<circle cx="373.8" cy="264.14" r="2.15" fill="#000"/>
<circle cx="375.9" cy="264.14" r="2.15" fill="#000"/>
<circle cx="378" cy="263.84" r="2.15" fill="#000"/>
<circle cx="380.1" cy="262.98" r="2.15" fill="#000"/>
<circle cx="382.2" cy="263.57" r="2.15" fill="#000"/>
<circle cx="384.3" cy="264.62" r="2.15" fill="#000"/>
<circle cx="386.4" cy="264.45" r="2.15" fill="#000"/>
<circle cx="388.5" cy="261.16" r="2.15" fill="#000"/>
<circle cx="390.6" cy="261.41" r="2.15" fill="#000"/>
<circle cx="392.7" cy="263.23" r="2.15" fill="#000"/>
<circle cx="394.8" cy="260.98" r="2.15" fill="#000"/>
<circle cx="396.9" cy="262.17" r="2.15" fill="#000"/>
<circle cx="399" cy="263.55" r="2.15" fill="#000"/>
<circle cx="401.1" cy="260.72" r="2.15" fill="#000"/>
<circle cx="403.2" cy="261.57" r="2.15" fill="#000"/>
<circle cx="405.3" cy="260.19" r="2.15" fill="#000"/>
<circle cx="407.4" cy="260.98" r="2.15" fill="#000"/>
<circle cx="409.5" cy="262.95" r="2.15" fill="#000"/>
<circle cx="411.6" cy="260.6" r="2.15" fill="#000"/>
<circle cx="413.7" cy="259.45" r="2.15" fill="#000"/>
<circle cx="415.8" cy="258.49" r="2.15" fill="#000"/>
<circle cx="417.9" cy="259.97" r="2.15" fill="#000"/>
<line x1="327.6" y1="242" x2="327.6" y2="236" stroke="#111" stroke-width="0.8" />
<line x1="325.4" y1="236" x2="329.8" y2="236" stroke="#111" stroke-width="0.9" />
<line x1="329.7" y1="253.98" x2="329.7" y2="247.62" stroke="#111" stroke-width="0.8" />
<line x1="327.5" y1="247.62" x2="331.9" y2="247.62" stroke="#111" stroke-width="0.9" />
<line x1="333.9" y1="255.21" x2="333.9" y2="249.14" stroke="#111" stroke-width="0.8" />
<line x1="331.7" y1="249.14" x2="336.1" y2="249.14" stroke="#111" stroke-width="0.9" />
<line x1="336" y1="255.42" x2="336" y2="247.63" stroke="#111" stroke-width="0.8" />
<line x1="333.8" y1="247.63" x2="338.2" y2="247.63" stroke="#111" stroke-width="0.9" />
<line x1="338.1" y1="256.1" x2="338.1" y2="251.82" stroke="#111" stroke-width="0.8" />
<line x1="335.9" y1="251.82" x2="340.3" y2="251.82" stroke="#111" stroke-width="0.9" />
<line x1="340.2" y1="256.26" x2="340.2" y2="248.96" stroke="#111" stroke-width="0.8" />
<line x1="338" y1="248.96" x2="342.4" y2="248.96" stroke="#111" stroke-width="0.9" />
<line x1="344.4" y1="257.19" x2="344.4" y2="249.51" stroke="#111" stroke-width="0.8" />
<line x1="342.2" y1="249.51" x2="346.6" y2="249.51" stroke="#111" stroke-width="0.9" />
<line x1="346.5" y1="257.01" x2="346.5" y2="249.13" stroke="#111" stroke-width="0.8" />
<line x1="344.3" y1="249.13" x2="348.7" y2="249.13" stroke="#111" stroke-width="0.9" />
<line x1="350.7" y1="257.67" x2="350.7" y2="249.77" stroke="#111" stroke-width="0.8" />
<line x1="348.5" y1="249.77" x2="352.9" y2="249.77" stroke="#111" stroke-width="0.9" />
<line x1="352.8" y1="258.77" x2="352.8" y2="254.15" stroke="#111" stroke-width="0.8" />
<line x1="350.6" y1="254.15" x2="355" y2="254.15" stroke="#111" stroke-width="0.9" />
<line x1="354.9" y1="259.23" x2="354.9" y2="254.93" stroke="#111" stroke-width="0.8" />
<line x1="352.7" y1="254.93" x2="357.1" y2="254.93" stroke="#111" stroke-width="0.9" />
<line x1="357" y1="259.18" x2="357" y2="253" stroke="#111" stroke-width="0.8" />
<line x1="354.8" y1="253" x2="359.2" y2="253" stroke="#111" stroke-width="0.9" />
<line x1="359.1" y1="260.38" x2="359.1" y2="255.48" stroke="#111" stroke-width="0.8" />
<line x1="356.9" y1="255.48" x2="361.3" y2="255.48" stroke="#111" stroke-width="0.9" />
<line x1="361.2" y1="261.44" x2="361.2" y2="254.33" stroke="#111" stroke-width="0.8" />
<line x1="359" y1="254.33" x2="363.4" y2="254.33" stroke="#111" stroke-width="0.9" />
<line x1="363.3" y1="260.6" x2="363.3" y2="256.17" stroke="#111" stroke-width="0.8" />
<line x1="361.1" y1="256.17" x2="365.5" y2="256.17" stroke="#111" stroke-width="0.9" />
<line x1="365.4" y1="261.66" x2="365.4" y2="257.38" stroke="#111" stroke-width="0.8" />
<line x1="363.2" y1="257.38" x2="367.6" y2="257.38" stroke="#111" stroke-width="0.9" />
<line x1="367.5" y1="263.26" x2="367.5" y2="255.77" stroke="#111" stroke-width="0.8" />
<line x1="365.3" y1="255.77" x2="369.7" y2="255.77" stroke="#111" stroke-width="0.9" />
<line x1="369.6" y1="263.97" x2="369.6" y2="258.76" stroke="#111" stroke-width="0.8" />
<line x1="367.4" y1="258.76" x2="371.8" y2="258.76" stroke="#111" stroke-width="0.9" />
<line x1="371.7" y1="264.35" x2="371.7" y2="259.54" stroke="#111" stroke-width="0.8" />
<line x1="369.5" y1="259.54" x2="373.9" y2="259.54" stroke="#111" stroke-width="0.9" />
<line x1="373.8" y1="263.08" x2="373.8" y2="258.09" stroke="#111" stroke-width="0.8" />
<line x1="371.6" y1="258.09" x2="376" y2="258.09" stroke="#111" stroke-width="0.9" />
<line x1="375.9" y1="265.1" x2="375.9" y2="258.25" stroke="#111" stroke-width="0.8" />
<line x1="373.7" y1="258.25" x2="378.1" y2="258.25" stroke="#111" stroke-width="0.9" />
<line x1="378" y1="264.5" x2="378" y2="260.24" stroke="#111" stroke-width="0.8" />
<line x1="375.8" y1="260.24" x2="380.2" y2="260.24" stroke="#111" stroke-width="0.9" />
<line x1="380.1" y1="264.22" x2="380.1" y2="259.76" stroke="#111" stroke-width="0.8" />
<line x1="377.9" y1="259.76" x2="382.3" y2="259.76" stroke="#111" stroke-width="0.9" />
<line x1="382.2" y1="266.4" x2="382.2" y2="260.94" stroke="#111" stroke-width="0.8" />
<line x1="380" y1="260.94" x2="384.4" y2="260.94" stroke="#111" stroke-width="0.9" />
<line x1="384.3" y1="265.75" x2="384.3" y2="259.47" stroke="#111" stroke-width="0.8" />
<line x1="382.1" y1="259.47" x2="386.5" y2="259.47" stroke="#111" stroke-width="0.9" />
<line x1="386.4" y1="265.36" x2="386.4" y2="260.67" stroke="#111" stroke-width="0.8" />
<line x1="384.2" y1="260.67" x2="388.6" y2="260.67" stroke="#111" stroke-width="0.9" />
<line x1="388.5" y1="264.31" x2="388.5" y2="260.05" stroke="#111" stroke-width="0.8" />
<line x1="386.3" y1="260.05" x2="390.7" y2="260.05" stroke="#111" stroke-width="0.9" />
<line x1="390.6" y1="265.5" x2="390.6" y2="258.06" stroke="#111" stroke-width="0.8" />
<line x1="388.4" y1="258.06" x2="392.8" y2="258.06" stroke="#111" stroke-width="0.9" />
<line x1="392.7" y1="265.15" x2="392.7" y2="261.15" stroke="#111" stroke-width="0.8" />
<line x1="390.5" y1="261.15" x2="394.9" y2="261.15" stroke="#111" stroke-width="0.9" />
<line x1="394.8" y1="264.96" x2="394.8" y2="260.22" stroke="#111" stroke-width="0.8" />
<line x1="392.6" y1="260.22" x2="397" y2="260.22" stroke="#111" stroke-width="0.9" />
<line x1="396.9" y1="265.28" x2="396.9" y2="258.98" stroke="#111" stroke-width="0.8" />
<line x1="394.7" y1="258.98" x2="399.1" y2="258.98" stroke="#111" stroke-width="0.9" />
<line x1="401.1" y1="263.7" x2="401.1" y2="257.1" stroke="#111" stroke-width="0.8" />
<line x1="398.9" y1="257.1" x2="403.3" y2="257.1" stroke="#111" stroke-width="0.9" />
<line x1="403.2" y1="264.38" x2="403.2" y2="257.28" stroke="#111" stroke-width="0.8" />
<line x1="401" y1="257.28" x2="405.4" y2="257.28" stroke="#111" stroke-width="0.9" />
<line x1="405.3" y1="265.09" x2="405.3" y2="260.74" stroke="#111" stroke-width="0.8" />
<line x1="403.1" y1="260.74" x2="407.5" y2="260.74" stroke="#111" stroke-width="0.9" />
<line x1="407.4" y1="263.74" x2="407.4" y2="257.14" stroke="#111" stroke-width="0.8" />
<line x1="405.2" y1="257.14" x2="409.6" y2="257.14" stroke="#111" stroke-width="0.9" />
<line x1="409.5" y1="263.64" x2="409.5" y2="258.12" stroke="#111" stroke-width="0.8" />
<line x1="407.3" y1="258.12" x2="411.7" y2="258.12" stroke="#111" stroke-width="0.9" />
<line x1="411.6" y1="263.75" x2="411.6" y2="256.47" stroke="#111" stroke-width="0.8" />
<line x1="409.4" y1="256.47" x2="413.8" y2="256.47" stroke="#111" stroke-width="0.9" />
<line x1="413.7" y1="264.32" x2="413.7" y2="258.44" stroke="#111" stroke-width="0.8" />
<line x1="411.5" y1="258.44" x2="415.9" y2="258.44" stroke="#111" stroke-width="0.9" />
<line x1="415.8" y1="263.31" x2="415.8" y2="258.71" stroke="#111" stroke-width="0.8" />
<line x1="413.6" y1="258.71" x2="418" y2="258.71" stroke="#111" stroke-width="0.9" />
<line x1="417.9" y1="263.64" x2="417.9" y2="258.39" stroke="#111" stroke-width="0.8" />
<line x1="415.7" y1="258.39" x2="420.1" y2="258.39" stroke="#111" stroke-width="0.9" />
<circle cx="327.6" cy="242" r="2.3" fill="#f2301a"/>
<circle cx="329.7" cy="253.98" r="2.3" fill="#f2301a"/>
<circle cx="331.8" cy="253.59" r="2.3" fill="#f2301a"/>
<circle cx="333.9" cy="255.21" r="2.3" fill="#f2301a"/>
<circle cx="336" cy="255.42" r="2.3" fill="#f2301a"/>
<circle cx="338.1" cy="256.1" r="2.3" fill="#f2301a"/>
<circle cx="340.2" cy="256.26" r="2.3" fill="#f2301a"/>
<circle cx="342.3" cy="256.97" r="2.3" fill="#f2301a"/>
<circle cx="344.4" cy="257.19" r="2.3" fill="#f2301a"/>
<circle cx="346.5" cy="257.01" r="2.3" fill="#f2301a"/>
<circle cx="348.6" cy="256.6" r="2.3" fill="#f2301a"/>
<circle cx="350.7" cy="257.67" r="2.3" fill="#f2301a"/>
<circle cx="352.8" cy="258.77" r="2.3" fill="#f2301a"/>
<circle cx="354.9" cy="259.23" r="2.3" fill="#f2301a"/>
<circle cx="357" cy="259.18" r="2.3" fill="#f2301a"/>
<circle cx="359.1" cy="260.38" r="2.3" fill="#f2301a"/>
<circle cx="361.2" cy="261.44" r="2.3" fill="#f2301a"/>
<circle cx="363.3" cy="260.6" r="2.3" fill="#f2301a"/>
<circle cx="365.4" cy="261.66" r="2.3" fill="#f2301a"/>
<circle cx="367.5" cy="263.26" r="2.3" fill="#f2301a"/>
<circle cx="369.6" cy="263.97" r="2.3" fill="#f2301a"/>
<circle cx="371.7" cy="264.35" r="2.3" fill="#f2301a"/>
<circle cx="373.8" cy="263.08" r="2.3" fill="#f2301a"/>
<circle cx="375.9" cy="265.1" r="2.3" fill="#f2301a"/>
<circle cx="378" cy="264.5" r="2.3" fill="#f2301a"/>
<circle cx="380.1" cy="264.22" r="2.3" fill="#f2301a"/>
<circle cx="382.2" cy="266.4" r="2.3" fill="#f2301a"/>
<circle cx="384.3" cy="265.75" r="2.3" fill="#f2301a"/>
<circle cx="386.4" cy="265.36" r="2.3" fill="#f2301a"/>
<circle cx="388.5" cy="264.31" r="2.3" fill="#f2301a"/>
<circle cx="390.6" cy="265.5" r="2.3" fill="#f2301a"/>
<circle cx="392.7" cy="265.15" r="2.3" fill="#f2301a"/>
<circle cx="394.8" cy="264.96" r="2.3" fill="#f2301a"/>
<circle cx="396.9" cy="265.28" r="2.3" fill="#f2301a"/>
<circle cx="399" cy="264.03" r="2.3" fill="#f2301a"/>
<circle cx="401.1" cy="263.7" r="2.3" fill="#f2301a"/>
<circle cx="403.2" cy="264.38" r="2.3" fill="#f2301a"/>
<circle cx="405.3" cy="265.09" r="2.3" fill="#f2301a"/>
<circle cx="407.4" cy="263.74" r="2.3" fill="#f2301a"/>
<circle cx="409.5" cy="263.64" r="2.3" fill="#f2301a"/>
<circle cx="411.6" cy="263.75" r="2.3" fill="#f2301a"/>
<circle cx="413.7" cy="264.32" r="2.3" fill="#f2301a"/>
<circle cx="415.8" cy="263.31" r="2.3" fill="#f2301a"/>
<circle cx="417.9" cy="263.64" r="2.3" fill="#f2301a"/>
<text x="389.6" y="309.1" font-size="8.3" fill="#1e1e1e" stroke="#1e1e1e" stroke-width="0.22" text-anchor="start" textLength="15.3" lengthAdjust="spacingAndGlyphs" >N=6</text>
<text x="389.6" y="320.5" font-size="8.3" fill="#f2301a" stroke="#f2301a" stroke-width="0.22" text-anchor="start" textLength="20.8" lengthAdjust="spacingAndGlyphs" >N=10</text>
<text x="401.6" y="224" font-size="9.5" fill="#1e1e1e" stroke="#1e1e1e" stroke-width="0.22" text-anchor="start" textLength="46.8" lengthAdjust="spacingAndGlyphs" >Contra-Hip</text>
<text x="401.6" y="238.9" font-size="9.5" fill="#f2301a" stroke="#f2301a" stroke-width="0.22" text-anchor="start" textLength="32.8" lengthAdjust="spacingAndGlyphs" >Ipsi-Hip</text>
<line x1="376" y1="335.6" x2="417.7" y2="335.6" stroke="#111" stroke-width="1.4" />
<text x="380" y="349.5" font-size="8.5" fill="#1e1e1e" stroke="#1e1e1e" stroke-width="0.22" text-anchor="start" textLength="26" lengthAdjust="spacingAndGlyphs" >20 min</text>
<line x1="509.4" y1="18.5" x2="509.4" y2="86.5" stroke="#333" stroke-width="1" />
<line x1="509.4" y1="86.5" x2="612.8" y2="86.5" stroke="#333" stroke-width="1" />
<line x1="506.4" y1="27.8" x2="509.4" y2="27.8" stroke="#333" stroke-width="1" />
<text x="499.8" y="32.5" font-size="9.9" fill="#1e1e1e" stroke="#1e1e1e" stroke-width="0.22" text-anchor="end" textLength="16.2" lengthAdjust="spacingAndGlyphs" >160</text>
<line x1="506.4" y1="47.5" x2="509.4" y2="47.5" stroke="#333" stroke-width="1" />
<text x="499.8" y="52.2" font-size="9.9" fill="#1e1e1e" stroke="#1e1e1e" stroke-width="0.22" text-anchor="end" textLength="16.2" lengthAdjust="spacingAndGlyphs" >140</text>
<line x1="506.4" y1="67" x2="509.4" y2="67" stroke="#333" stroke-width="1" />
<text x="499.8" y="71.7" font-size="9.9" fill="#1e1e1e" stroke="#1e1e1e" stroke-width="0.22" text-anchor="end" textLength="16.2" lengthAdjust="spacingAndGlyphs" >120</text>
<line x1="506.4" y1="86.5" x2="509.4" y2="86.5" stroke="#333" stroke-width="1" />
<text x="499.8" y="91.2" font-size="9.9" fill="#1e1e1e" stroke="#1e1e1e" stroke-width="0.22" text-anchor="end" textLength="16.2" lengthAdjust="spacingAndGlyphs" >100</text>
<rect x="520.55" y="29.15" width="14" height="57.35" fill="#000" stroke="#000" stroke-width="0.9"/>
<rect x="535.45" y="82.35" width="14.2" height="4.15" fill="#fb2f0c" stroke="#000" stroke-width="0.9"/>
<rect x="572.25" y="46.15" width="13.8" height="40.35" fill="#000" stroke="#000" stroke-width="0.9"/>
<rect x="586.95" y="45.25" width="14.6" height="41.25" fill="#fb2f0c" stroke="#000" stroke-width="0.9"/>
<line x1="528" y1="29" x2="528" y2="23.7" stroke="#333" stroke-width="1.1" />
<line x1="525.5" y1="23.7" x2="530.5" y2="23.7" stroke="#333" stroke-width="1.2" />
<line x1="542.6" y1="82" x2="542.6" y2="79.7" stroke="#333" stroke-width="1.1" />
<line x1="540.1" y1="79.7" x2="545.1" y2="79.7" stroke="#333" stroke-width="1.2" />
<line x1="579.6" y1="46" x2="579.6" y2="35.2" stroke="#333" stroke-width="1.1" />
<line x1="577.1" y1="35.2" x2="582.1" y2="35.2" stroke="#333" stroke-width="1.2" />
<line x1="594.2" y1="45" x2="594.2" y2="42.7" stroke="#333" stroke-width="1.1" />
<line x1="591.7" y1="42.7" x2="596.7" y2="42.7" stroke="#333" stroke-width="1.2" />
<text x="515" y="104.5" font-size="9.3" fill="#1e1e1e" stroke="#1e1e1e" stroke-width="0.22" text-anchor="start" textLength="28.2" lengthAdjust="spacingAndGlyphs" >Vehicle</text>
<text x="563.8" y="104.6" font-size="9.3" fill="#1e1e1e" stroke="#1e1e1e" stroke-width="0.22" text-anchor="start" textLength="30.6" lengthAdjust="spacingAndGlyphs" >CN2097</text>
<text x="543.2" y="12.8" font-size="10.3" fill="#1e1e1e" stroke="#1e1e1e" stroke-width="0.22" text-anchor="start" textLength="22.6" lengthAdjust="spacingAndGlyphs" >1 day</text>
<rect x="626.6" y="56.4" width="6.2" height="6.6" fill="#000" stroke="#000" stroke-width="0.8"/>
<rect x="626.6" y="72.5" width="6.2" height="6.6" fill="#fb2f0c" stroke="#000" stroke-width="0.8"/>
<text x="636.4" y="65.6" font-size="10" fill="#1e1e1e" stroke="#1e1e1e" stroke-width="0.22" text-anchor="start" textLength="47" lengthAdjust="spacingAndGlyphs" >Contra-Hip</text>
<text x="636.4" y="78.6" font-size="10" fill="#1e1e1e" stroke="#1e1e1e" stroke-width="0.22" text-anchor="start" textLength="32.6" lengthAdjust="spacingAndGlyphs" >Ipsi-Hip</text>
<line x1="509.4" y1="128.8" x2="509.4" y2="204.8" stroke="#333" stroke-width="1" />
<line x1="509.4" y1="204.8" x2="607.5" y2="204.8" stroke="#333" stroke-width="1" />
<line x1="506.4" y1="139.1" x2="509.4" y2="139.1" stroke="#333" stroke-width="1" />
<text x="499.8" y="143.8" font-size="9.9" fill="#1e1e1e" stroke="#1e1e1e" stroke-width="0.22" text-anchor="end" textLength="16.2" lengthAdjust="spacingAndGlyphs" >160</text>
<line x1="506.4" y1="161.3" x2="509.4" y2="161.3" stroke="#333" stroke-width="1" />
<text x="499.8" y="166" font-size="9.9" fill="#1e1e1e" stroke="#1e1e1e" stroke-width="0.22" text-anchor="end" textLength="16.2" lengthAdjust="spacingAndGlyphs" >140</text>
<line x1="506.4" y1="183.1" x2="509.4" y2="183.1" stroke="#333" stroke-width="1" />
<text x="499.8" y="187.8" font-size="9.9" fill="#1e1e1e" stroke="#1e1e1e" stroke-width="0.22" text-anchor="end" textLength="16.2" lengthAdjust="spacingAndGlyphs" >120</text>
<line x1="506.4" y1="204.8" x2="509.4" y2="204.8" stroke="#333" stroke-width="1" />
<text x="499.8" y="209.5" font-size="9.9" fill="#1e1e1e" stroke="#1e1e1e" stroke-width="0.22" text-anchor="end" textLength="16.2" lengthAdjust="spacingAndGlyphs" >100</text>
<rect x="520.45" y="142.65" width="13.1" height="62.15" fill="#000" stroke="#000" stroke-width="0.9"/>
<rect x="534.45" y="198.75" width="13.9" height="6.05" fill="#fb2f0c" stroke="#000" stroke-width="0.9"/>
<rect x="569.95" y="139.65" width="13" height="65.15" fill="#000" stroke="#000" stroke-width="0.9"/>
<rect x="583.85" y="144.15" width="13.8" height="60.65" fill="#fb2f0c" stroke="#000" stroke-width="0.9"/>
<line x1="527.3" y1="142.5" x2="527.3" y2="134.5" stroke="#333" stroke-width="1.1" />
<line x1="524.8" y1="134.5" x2="529.8" y2="134.5" stroke="#333" stroke-width="1.2" />
<line x1="541.5" y1="198.5" x2="541.5" y2="194.5" stroke="#333" stroke-width="1.1" />
<line x1="539" y1="194.5" x2="544" y2="194.5" stroke="#333" stroke-width="1.2" />
<line x1="576.7" y1="139.5" x2="576.7" y2="129.1" stroke="#333" stroke-width="1.1" />
<line x1="574.2" y1="129.1" x2="579.2" y2="129.1" stroke="#333" stroke-width="1.2" />
<line x1="590.5" y1="144" x2="590.5" y2="136.7" stroke="#333" stroke-width="1.1" />
<line x1="588" y1="136.7" x2="593" y2="136.7" stroke="#333" stroke-width="1.2" />
<text x="518" y="214.7" font-size="9.3" fill="#1e1e1e" stroke="#1e1e1e" stroke-width="0.22" text-anchor="start" textLength="27.6" lengthAdjust="spacingAndGlyphs" >Vehicle</text>
<text x="566.5" y="214.7" font-size="9.3" fill="#1e1e1e" stroke="#1e1e1e" stroke-width="0.22" text-anchor="start" textLength="30.4" lengthAdjust="spacingAndGlyphs" >CN2097</text>
<text x="515" y="226.4" font-size="9.3" fill="#1e1e1e" stroke="#1e1e1e" stroke-width="0.22" text-anchor="start" textLength="27.3" lengthAdjust="spacingAndGlyphs" >Vehicle</text>
<text x="563.2" y="226.4" font-size="9.3" fill="#1e1e1e" stroke="#1e1e1e" stroke-width="0.22" text-anchor="start" textLength="30.6" lengthAdjust="spacingAndGlyphs" >CN2097</text>
<text x="535.6" y="118.9" font-size="10.8" fill="#1e1e1e" stroke="#1e1e1e" stroke-width="0.22" text-anchor="start" textLength="27.2" lengthAdjust="spacingAndGlyphs" >3 days</text>
<line x1="509.9" y1="249" x2="509.9" y2="324.4" stroke="#333" stroke-width="1.1" />
<line x1="509.9" y1="324.4" x2="617.5" y2="324.4" stroke="#333" stroke-width="1.1" />
<line x1="506.9" y1="263.2" x2="509.9" y2="263.2" stroke="#333" stroke-width="1" />
<text x="500" y="268.1" font-size="10.3" fill="#1e1e1e" stroke="#1e1e1e" stroke-width="0.22" text-anchor="end" >1</text>
<line x1="506.9" y1="294" x2="509.9" y2="294" stroke="#333" stroke-width="1" />
<text x="500" y="298.9" font-size="10.3" fill="#1e1e1e" stroke="#1e1e1e" stroke-width="0.22" text-anchor="end" >0.8</text>
<line x1="506.9" y1="324.4" x2="509.9" y2="324.4" stroke="#333" stroke-width="1" />
<text x="500" y="329.3" font-size="10.3" fill="#1e1e1e" stroke="#1e1e1e" stroke-width="0.22" text-anchor="end" >0.6</text>
<rect x="521.65" y="315.65" width="14" height="8.95" fill="#f7f300" stroke="#111" stroke-width="0.9"/>
<rect x="536.55" y="262.45" width="14.9" height="62.15" fill="#1ee0ef" stroke="#111" stroke-width="0.9"/>
<rect x="574.45" y="312.85" width="14.2" height="11.75" fill="#f7f300" stroke="#111" stroke-width="0.9"/>
<rect x="589.55" y="267.75" width="14.9" height="56.85" fill="#1ee0ef" stroke="#111" stroke-width="0.9"/>
<line x1="529" y1="315.5" x2="529" y2="310.4" stroke="#555" stroke-width="1.1" />
<line x1="526.6" y1="310.4" x2="531.4" y2="310.4" stroke="#333" stroke-width="1.2" />
<line x1="543.9" y1="262.3" x2="543.9" y2="256.1" stroke="#555" stroke-width="1.1" />
<line x1="541.5" y1="256.1" x2="546.3" y2="256.1" stroke="#333" stroke-width="1.2" />
<line x1="581.6" y1="312.7" x2="581.6" y2="307.8" stroke="#555" stroke-width="1.1" />
<line x1="579.2" y1="307.8" x2="584" y2="307.8" stroke="#333" stroke-width="1.2" />
<line x1="597.1" y1="267.6" x2="597.1" y2="263.7" stroke="#555" stroke-width="1.1" />
<line x1="594.7" y1="263.7" x2="599.5" y2="263.7" stroke="#333" stroke-width="1.2" />
<text x="520.4" y="343.4" font-size="10.2" fill="#1e1e1e" stroke="#1e1e1e" stroke-width="0.22" text-anchor="start" textLength="20.6" lengthAdjust="spacingAndGlyphs" >1 day</text>
<text x="572.1" y="343.4" font-size="10.2" fill="#1e1e1e" stroke="#1e1e1e" stroke-width="0.22" text-anchor="start" textLength="24" lengthAdjust="spacingAndGlyphs" >3 days</text>
<text x="529.8" y="242.8" font-size="10.0" fill="#1e1e1e" stroke="#1e1e1e" stroke-width="0.22" text-anchor="start" textLength="38.9" lengthAdjust="spacingAndGlyphs" >LTP Ratio</text>
<rect x="632.8" y="285.3" width="6.5" height="6.8" fill="#f7f300" stroke="#111" stroke-width="0.8"/>
<rect x="632.8" y="304.9" width="6.5" height="6.5" fill="#1ee0ef" stroke="#111" stroke-width="0.8"/>
<text x="640.8" y="293.2" font-size="10" fill="#1e1e1e" stroke="#1e1e1e" stroke-width="0.22" text-anchor="start" textLength="31.5" lengthAdjust="spacingAndGlyphs" >Vehicle</text>
<text x="640.8" y="312.3" font-size="10" fill="#1e1e1e" stroke="#1e1e1e" stroke-width="0.22" text-anchor="start" textLength="34.7" lengthAdjust="spacingAndGlyphs" >CN2097</text>
<text x="3.8" y="12.6" font-size="12.8" fill="#1e1e1e" stroke="#1e1e1e" stroke-width="0.22" text-anchor="start" textLength="8.6" lengthAdjust="spacingAndGlyphs" >A</text>
<text x="13" y="12.6" font-size="8.8" fill="#1e1e1e" stroke="#1e1e1e" stroke-width="0.22" text-anchor="start" textLength="4.6" lengthAdjust="spacingAndGlyphs" >1</text>
<text x="2.7" y="211.9" font-size="12.8" fill="#1e1e1e" stroke="#1e1e1e" stroke-width="0.22" text-anchor="start" textLength="8.4" lengthAdjust="spacingAndGlyphs" >A</text>
<text x="11.4" y="211.9" font-size="8.8" fill="#1e1e1e" stroke="#1e1e1e" stroke-width="0.22" text-anchor="start" textLength="4.9" lengthAdjust="spacingAndGlyphs" >2</text>
<text x="466.8" y="12.8" font-size="13" fill="#1e1e1e" stroke="#1e1e1e" stroke-width="0.22" text-anchor="start" textLength="7.5" lengthAdjust="spacingAndGlyphs" >B</text>
<text x="474.5" y="12.8" font-size="8.2" fill="#1e1e1e" stroke="#1e1e1e" stroke-width="0.22" text-anchor="start" textLength="4.4" lengthAdjust="spacingAndGlyphs" >1</text>
<text x="468.6" y="122.3" font-size="13" fill="#1e1e1e" stroke="#1e1e1e" stroke-width="0.22" text-anchor="start" textLength="7.5" lengthAdjust="spacingAndGlyphs" >B</text>
<text x="476.3" y="122.3" font-size="8.2" fill="#1e1e1e" stroke="#1e1e1e" stroke-width="0.22" text-anchor="start" textLength="4.6" lengthAdjust="spacingAndGlyphs" >2</text>
<text x="466.6" y="245.5" font-size="13.4" fill="#1e1e1e" stroke="#1e1e1e" stroke-width="0.22" text-anchor="start" textLength="7.8" lengthAdjust="spacingAndGlyphs" >C</text>
<text x="99.5" y="10.9" font-size="12" fill="#1e1e1e" stroke="#1e1e1e" stroke-width="0.22" text-anchor="start" textLength="79.1" lengthAdjust="spacingAndGlyphs" >Vehicle-treated</text>
<text x="281" y="10.9" font-size="12" fill="#1e1e1e" stroke="#1e1e1e" stroke-width="0.22" text-anchor="start" textLength="82.4" lengthAdjust="spacingAndGlyphs" >CN2097-treated</text>
<text x="59.1" y="35.9" font-size="9.9" fill="#1e1e1e" stroke="#1e1e1e" stroke-width="0.22" text-anchor="start" textLength="22.7" lengthAdjust="spacingAndGlyphs" >1 day</text>
<text x="256" y="36.3" font-size="9.9" fill="#1e1e1e" stroke="#1e1e1e" stroke-width="0.22" text-anchor="start" textLength="22.8" lengthAdjust="spacingAndGlyphs" >1 day</text>
<text x="58.6" y="214.7" font-size="10.2" fill="#1e1e1e" stroke="#1e1e1e" stroke-width="0.22" text-anchor="start" textLength="27" lengthAdjust="spacingAndGlyphs" >3 days</text>
<text x="256.6" y="214.3" font-size="10.2" fill="#1e1e1e" stroke="#1e1e1e" stroke-width="0.22" text-anchor="start" textLength="27.4" lengthAdjust="spacingAndGlyphs" >3 days</text>
<text x="37.8" y="85.4" font-size="10.3" fill="#1e1e1e" stroke="#1e1e1e" stroke-width="0.22" text-anchor="end" textLength="19.2" lengthAdjust="spacingAndGlyphs" >200</text>
<text x="37.8" y="115.2" font-size="10.3" fill="#1e1e1e" stroke="#1e1e1e" stroke-width="0.22" text-anchor="end" textLength="19.2" lengthAdjust="spacingAndGlyphs" >150</text>
<text x="37.8" y="145" font-size="10.3" fill="#1e1e1e" stroke="#1e1e1e" stroke-width="0.22" text-anchor="end" textLength="19.2" lengthAdjust="spacingAndGlyphs" >100</text>
<text x="37.8" y="174.6" font-size="10.3" fill="#1e1e1e" stroke="#1e1e1e" stroke-width="0.22" text-anchor="end" textLength="12.4" lengthAdjust="spacingAndGlyphs" >50</text>
<text x="36.6" y="245.1" font-size="10.3" fill="#1e1e1e" stroke="#1e1e1e" stroke-width="0.22" text-anchor="end" textLength="19.2" lengthAdjust="spacingAndGlyphs" >200</text>
<text x="36.6" y="274.8" font-size="10.3" fill="#1e1e1e" stroke="#1e1e1e" stroke-width="0.22" text-anchor="end" textLength="19.2" lengthAdjust="spacingAndGlyphs" >150</text>
<text x="36.6" y="304.4" font-size="10.3" fill="#1e1e1e" stroke="#1e1e1e" stroke-width="0.22" text-anchor="end" textLength="19.2" lengthAdjust="spacingAndGlyphs" >100</text>
<text x="36.6" y="334.6" font-size="10.3" fill="#1e1e1e" stroke="#1e1e1e" stroke-width="0.22" text-anchor="end" textLength="12.4" lengthAdjust="spacingAndGlyphs" >50</text>
<text x="11.7" y="118.6" font-size="10.6" fill="#1e1e1e" stroke="#1e1e1e" stroke-width="0.22" text-anchor="middle" textLength="46.4" lengthAdjust="spacingAndGlyphs" transform="rotate(-90 11.7 118.6)" >% Baseline</text>
<text x="9.9" y="281.1" font-size="10.6" fill="#1e1e1e" stroke="#1e1e1e" stroke-width="0.22" text-anchor="middle" textLength="46.3" lengthAdjust="spacingAndGlyphs" transform="rotate(-90 9.9 281.1)" >% Baseline</text>
<text x="473.6" y="61.2" font-size="10.6" fill="#1e1e1e" stroke="#1e1e1e" stroke-width="0.22" text-anchor="middle" textLength="47.2" lengthAdjust="spacingAndGlyphs" transform="rotate(-90 473.6 61.2)" >% Baseline</text>
<text x="473.6" y="169.8" font-size="10.6" fill="#1e1e1e" stroke="#1e1e1e" stroke-width="0.22" text-anchor="middle" textLength="49.9" lengthAdjust="spacingAndGlyphs" transform="rotate(-90 473.6 169.8)" >% Baseline</text>
<text x="473.6" y="296.3" font-size="9.2" fill="#1e1e1e" stroke="#1e1e1e" stroke-width="0.22" text-anchor="middle" textLength="76.3" lengthAdjust="spacingAndGlyphs" transform="rotate(-90 473.6 296.3)" >Ipsi-Hip/Contra-Hip</text>
</svg>
</body></html>
